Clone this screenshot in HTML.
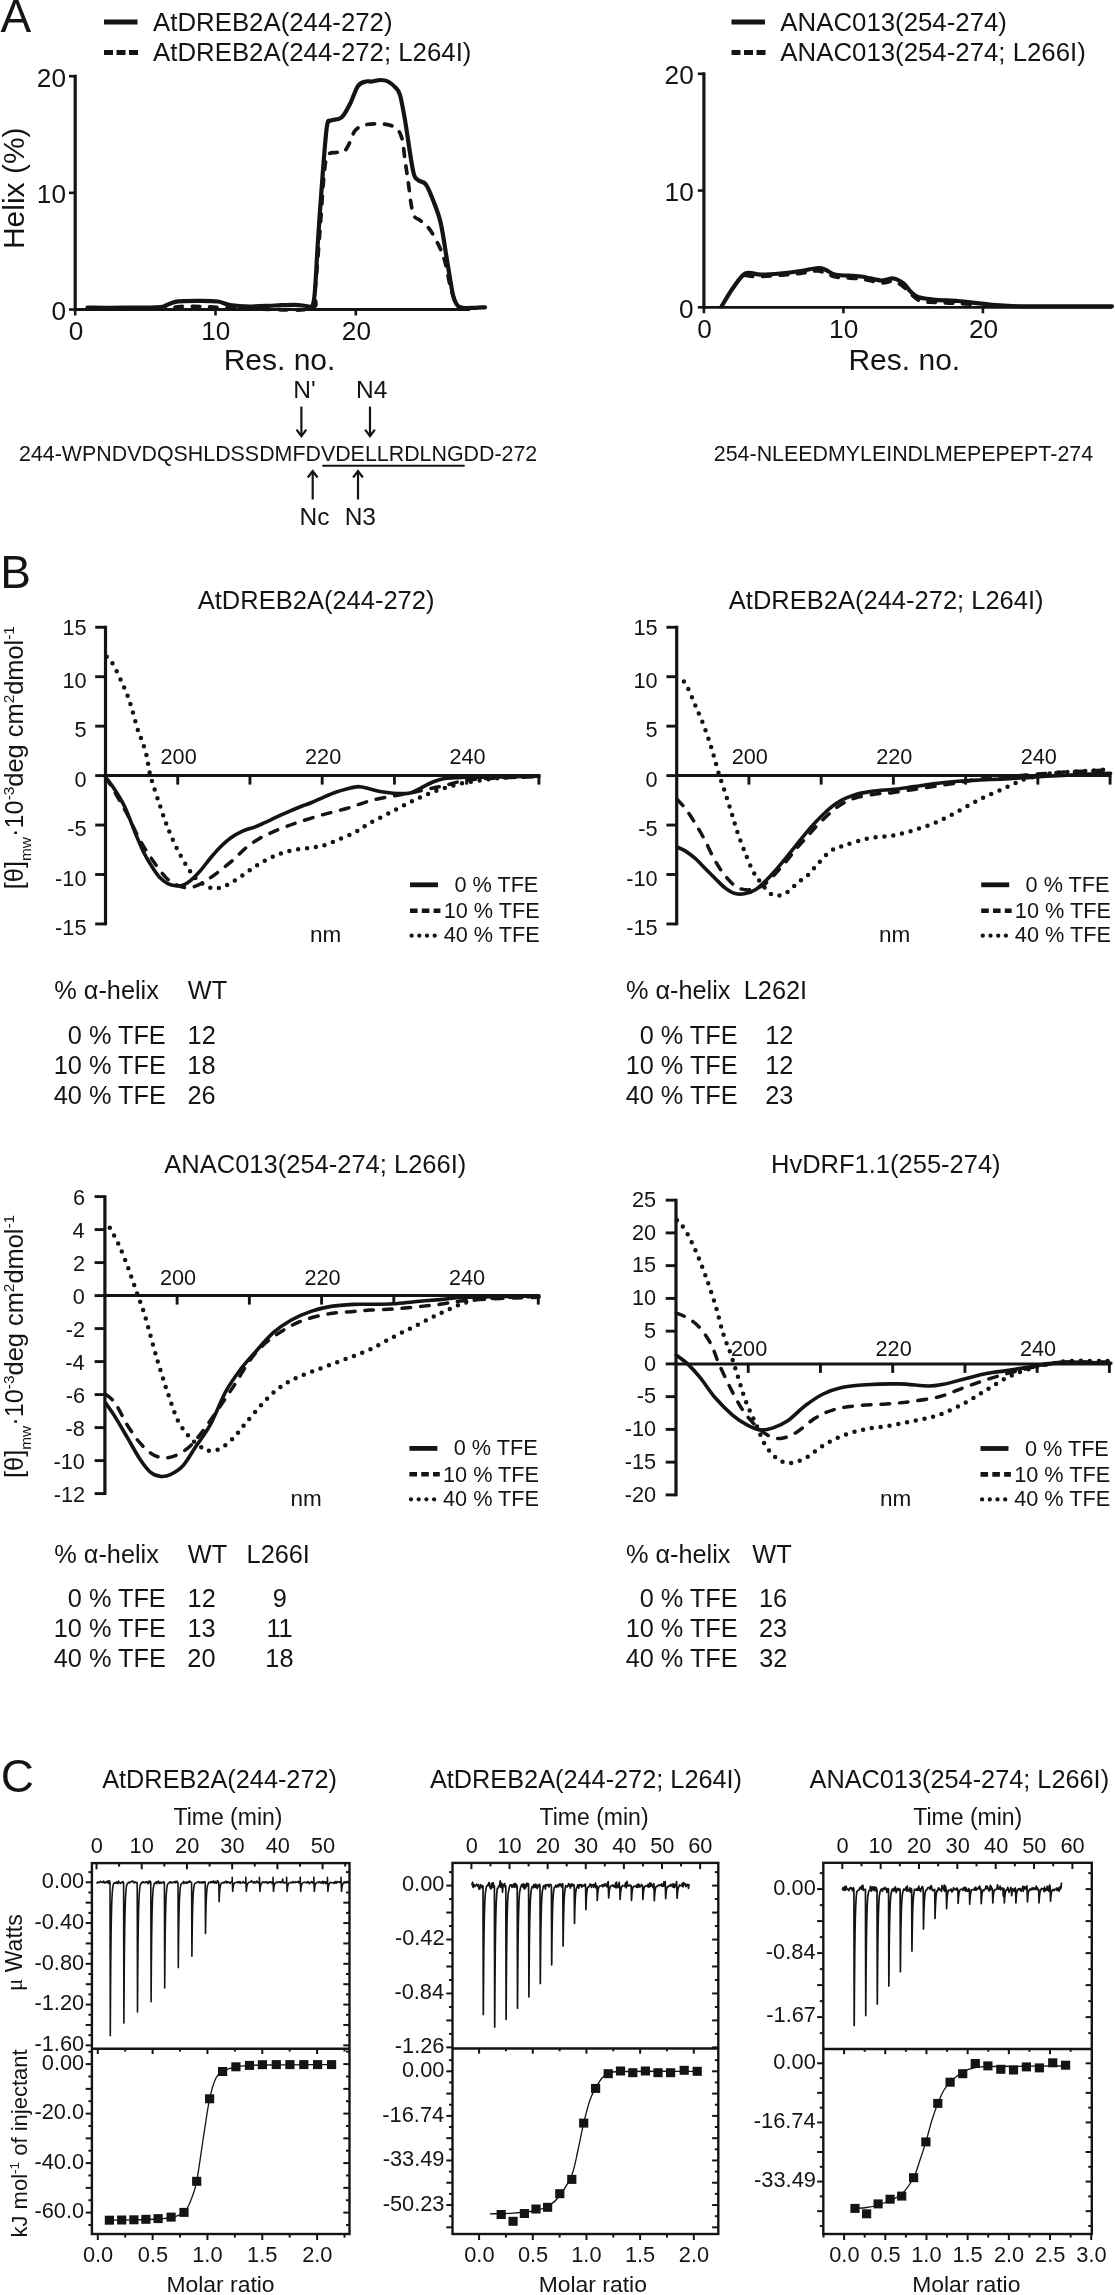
<!DOCTYPE html>
<html><head><meta charset="utf-8"><style>
html,body{margin:0;padding:0;background:#fff;}
svg{display:block;will-change:transform;}
text{font-family:"Liberation Sans",sans-serif;fill:#141414;}
</style></head><body>
<svg width="1115" height="2295" viewBox="0 0 1115 2295">
<rect width="1115" height="2295" fill="#fff"/>
<text x="0.57" y="32.30" font-size="46" >A</text>
<text x="0.32" y="587.70" font-size="46" >B</text>
<text x="0.70" y="1792.00" font-size="46" >C</text>
<line x1="75.20" y1="74.70" x2="75.20" y2="311.00" stroke="#141414" stroke-width="3.2" stroke-linecap="butt"/>
<line x1="75.20" y1="309.50" x2="470.00" y2="309.50" stroke="#141414" stroke-width="2.8" stroke-linecap="butt"/>
<line x1="69.00" y1="309.50" x2="75.20" y2="309.50" stroke="#141414" stroke-width="2.6" stroke-linecap="butt"/>
<line x1="69.00" y1="192.85" x2="75.20" y2="192.85" stroke="#141414" stroke-width="2.6" stroke-linecap="butt"/>
<line x1="69.00" y1="76.20" x2="75.20" y2="76.20" stroke="#141414" stroke-width="2.6" stroke-linecap="butt"/>
<line x1="75.20" y1="309.50" x2="75.20" y2="315.50" stroke="#141414" stroke-width="2.6" stroke-linecap="butt"/>
<line x1="215.50" y1="309.50" x2="215.50" y2="315.50" stroke="#141414" stroke-width="2.6" stroke-linecap="butt"/>
<line x1="355.80" y1="309.50" x2="355.80" y2="315.50" stroke="#141414" stroke-width="2.6" stroke-linecap="butt"/>
<text x="36.87" y="86.60" font-size="26.2" >20</text>
<text x="36.87" y="203.25" font-size="26.2" >10</text>
<text x="51.41" y="320.10" font-size="26.2" >0</text>
<text x="68.63" y="339.80" font-size="26.2" >0</text>
<text x="201.20" y="339.80" font-size="26.2" >10</text>
<text x="341.83" y="339.80" font-size="26.2" >20</text>
<text x="223.65" y="370.40" font-size="30" >Res. no.</text>
<text transform="translate(24.2,249.10) rotate(-90)" font-size="30">Helix (%)</text>
<line x1="104.00" y1="22.00" x2="137.50" y2="22.00" stroke="#141414" stroke-width="5" stroke-linecap="butt"/>
<text x="153.07" y="31.40" font-size="25.8" >AtDREB2A(244-272)</text>
<line x1="104" y1="52.5" x2="138" y2="52.5" stroke="#141414" stroke-width="5" stroke-dasharray="9 3.5"/>
<text x="153.07" y="61.20" font-size="25.8" >AtDREB2A(244-272; L264I)</text>
<path d="M87.50,307.60 C91.25,307.63 101.25,307.82 110.00,307.80 C118.75,307.78 131.67,307.60 140.00,307.50 C148.33,307.40 155.33,307.70 160.00,307.20 C164.67,306.70 165.00,305.48 168.00,304.50 C171.00,303.52 172.67,301.92 178.00,301.30 C183.33,300.68 193.33,300.77 200.00,300.80 C206.67,300.83 213.00,300.80 218.00,301.50 C223.00,302.20 224.67,304.17 230.00,305.00 C235.33,305.83 242.50,306.42 250.00,306.50 C257.50,306.58 267.50,305.78 275.00,305.50 C282.50,305.22 289.83,304.72 295.00,304.80 C300.17,304.88 303.08,305.88 306.00,306.00 C308.92,306.12 311.00,308.17 312.50,305.50 C314.00,302.83 314.08,300.92 315.00,290.00 C315.92,279.08 316.67,260.00 318.00,240.00 C319.33,220.00 321.50,189.00 323.00,170.00 C324.50,151.00 325.67,134.25 327.00,126.00 C328.33,117.75 328.58,121.92 331.00,120.50 C333.42,119.08 338.33,120.25 341.50,117.50 C344.67,114.75 347.25,109.25 350.00,104.00 C352.75,98.75 355.33,89.75 358.00,86.00 C360.67,82.25 363.67,82.25 366.00,81.50 C368.33,80.75 369.58,81.75 372.00,81.50 C374.42,81.25 377.83,80.00 380.50,80.00 C383.17,80.00 385.50,80.23 388.00,81.50 C390.50,82.77 393.50,85.35 395.50,87.60 C397.50,89.85 398.42,89.60 400.00,95.00 C401.58,100.40 402.83,107.42 405.00,120.00 C407.17,132.58 410.83,160.50 413.00,170.50 C415.17,180.50 415.88,177.70 418.00,180.00 C420.12,182.30 423.20,180.97 425.70,184.30 C428.20,187.63 430.50,193.55 433.00,200.00 C435.50,206.45 438.37,213.00 440.70,223.00 C443.03,233.00 444.95,248.00 447.00,260.00 C449.05,272.00 451.17,287.33 453.00,295.00 C454.83,302.67 456.00,303.83 458.00,306.00 C460.00,308.17 462.17,307.70 465.00,308.00 C467.83,308.30 471.67,307.92 475.00,307.80 C478.33,307.68 483.33,307.38 485.00,307.30" fill="none" stroke="#141414" stroke-width="4.2" stroke-linecap="round" stroke-linejoin="round"/>
<path d="M88.00,308.80 C91.67,308.83 101.33,309.05 110.00,309.00 C118.67,308.95 130.00,308.70 140.00,308.50 C150.00,308.30 163.33,308.13 170.00,307.80 C176.67,307.47 175.00,306.72 180.00,306.50 C185.00,306.28 193.33,306.33 200.00,306.50 C206.67,306.67 210.00,307.08 220.00,307.50 C230.00,307.92 244.83,308.83 260.00,309.00 C275.17,309.17 301.83,311.67 311.00,308.50 C320.17,305.33 313.50,303.08 315.00,290.00 C316.50,276.92 318.50,249.17 320.00,230.00 C321.50,210.83 322.72,187.43 324.00,175.00 C325.28,162.57 325.70,159.15 327.70,155.40 C329.70,151.65 333.28,153.12 336.00,152.50 C338.72,151.88 341.67,153.45 344.00,151.70 C346.33,149.95 348.12,145.57 350.00,142.00 C351.88,138.43 352.73,133.17 355.30,130.30 C357.87,127.43 360.78,125.85 365.40,124.80 C370.02,123.75 377.98,123.50 383.00,124.00 C388.02,124.50 392.37,125.48 395.50,127.80 C398.63,130.12 400.22,132.53 401.80,137.90 C403.38,143.27 403.97,152.90 405.00,160.00 C406.03,167.10 406.67,171.63 408.00,180.50 C409.33,189.37 410.90,206.50 413.00,213.20 C415.10,219.90 417.65,217.77 420.60,220.70 C423.55,223.63 426.93,224.93 430.70,230.80 C434.47,236.67 439.98,246.87 443.20,255.90 C446.42,264.93 447.90,277.05 450.00,285.00 C452.10,292.95 454.13,299.68 455.80,303.60 C457.47,307.52 459.30,307.68 460.00,308.50" fill="none" stroke="#141414" stroke-width="3.7" stroke-linecap="round" stroke-linejoin="round" stroke-dasharray="7.6 9.8"/>
<line x1="703.90" y1="72.30" x2="703.90" y2="308.80" stroke="#141414" stroke-width="3.2" stroke-linecap="butt"/>
<line x1="703.90" y1="307.30" x2="1112.00" y2="307.30" stroke="#141414" stroke-width="2.8" stroke-linecap="butt"/>
<line x1="697.80" y1="307.30" x2="703.90" y2="307.30" stroke="#141414" stroke-width="2.6" stroke-linecap="butt"/>
<line x1="697.80" y1="190.55" x2="703.90" y2="190.55" stroke="#141414" stroke-width="2.6" stroke-linecap="butt"/>
<line x1="697.80" y1="73.80" x2="703.90" y2="73.80" stroke="#141414" stroke-width="2.6" stroke-linecap="butt"/>
<line x1="703.90" y1="307.30" x2="703.90" y2="313.30" stroke="#141414" stroke-width="2.6" stroke-linecap="butt"/>
<line x1="843.40" y1="307.30" x2="843.40" y2="313.30" stroke="#141414" stroke-width="2.6" stroke-linecap="butt"/>
<line x1="982.90" y1="307.30" x2="982.90" y2="313.30" stroke="#141414" stroke-width="2.6" stroke-linecap="butt"/>
<text x="664.57" y="84.20" font-size="26.2" >20</text>
<text x="664.57" y="200.95" font-size="26.2" >10</text>
<text x="679.11" y="317.90" font-size="26.2" >0</text>
<text x="697.33" y="337.70" font-size="26.2" >0</text>
<text x="829.10" y="337.70" font-size="26.2" >10</text>
<text x="968.93" y="337.70" font-size="26.2" >20</text>
<text x="848.45" y="370.20" font-size="30" >Res. no.</text>
<line x1="731.50" y1="22.00" x2="765.00" y2="22.00" stroke="#141414" stroke-width="5" stroke-linecap="butt"/>
<text x="780.37" y="31.40" font-size="25.8" >ANAC013(254-274)</text>
<line x1="731.5" y1="52.5" x2="765.5" y2="52.5" stroke="#141414" stroke-width="5" stroke-dasharray="9 3.5"/>
<text x="780.37" y="61.20" font-size="25.8" >ANAC013(254-274; L266I)</text>
<path d="M721.50,306.50 C723.42,303.42 729.02,293.50 733.00,288.00 C736.98,282.50 740.82,275.72 745.40,273.50 C749.98,271.28 754.73,274.70 760.50,274.70 C766.27,274.70 773.32,274.12 780.00,273.50 C786.68,272.88 794.23,271.92 800.60,271.00 C806.97,270.08 813.97,268.17 818.20,268.00 C822.43,267.83 823.07,268.88 826.00,270.00 C828.93,271.12 829.97,273.62 835.80,274.70 C841.63,275.78 853.47,275.53 861.00,276.50 C868.53,277.47 875.58,280.17 881.00,280.50 C886.42,280.83 889.73,278.00 893.50,278.50 C897.27,279.00 900.68,281.25 903.60,283.50 C906.52,285.75 908.48,289.70 911.00,292.00 C913.52,294.30 914.53,296.00 918.70,297.30 C922.87,298.60 929.45,299.18 936.00,299.80 C942.55,300.42 950.83,300.42 958.00,301.00 C965.17,301.58 972.83,302.63 979.00,303.30 C985.17,303.97 988.17,304.50 995.00,305.00 C1001.83,305.50 1009.17,306.08 1020.00,306.30 C1030.83,306.52 1044.67,306.30 1060.00,306.30 C1075.33,306.30 1103.33,306.30 1112.00,306.30" fill="none" stroke="#141414" stroke-width="4.2" stroke-linecap="round" stroke-linejoin="round"/>
<path d="M745.40,275.50 C747.92,275.70 751.30,277.03 760.50,276.70 C769.70,276.37 790.98,274.45 800.60,273.50 C810.22,272.55 812.33,270.42 818.20,271.00 C824.07,271.58 828.67,275.67 835.80,277.00 C842.93,278.33 853.47,278.00 861.00,279.00 C868.53,280.00 875.58,282.58 881.00,283.00 C886.42,283.42 889.73,280.83 893.50,281.50 C897.27,282.17 899.40,283.87 903.60,287.00 C907.80,290.13 913.30,297.72 918.70,300.30 C924.10,302.88 929.45,301.97 936.00,302.50 C942.55,303.03 950.83,303.08 958.00,303.50 C965.17,303.92 975.50,304.75 979.00,305.00" fill="none" stroke="#141414" stroke-width="3.5" stroke-linecap="round" stroke-linejoin="round" stroke-dasharray="7.6 9.8"/>
<text x="19.03" y="460.70" font-size="21.4" >244-WPNDVDQSHLDSSDMFDVDELLRDLNGDD-272</text>
<line x1="322.30" y1="465.80" x2="464.70" y2="465.80" stroke="#141414" stroke-width="2.0" stroke-linecap="butt"/>
<text x="713.83" y="461.00" font-size="21.4" >254-NLEEDMYLEINDLMEPEPEPT-274</text>
<line x1="301.40" y1="406.60" x2="301.40" y2="436.20" stroke="#141414" stroke-width="2.2" stroke-linecap="butt"/>
<path d="M296.52,429.70 L301.40,436.20 L306.27,429.70" fill="none" stroke="#141414" stroke-width="2.2" stroke-linejoin="miter"/>
<line x1="370.00" y1="406.60" x2="370.00" y2="436.20" stroke="#141414" stroke-width="2.2" stroke-linecap="butt"/>
<path d="M365.12,429.70 L370.00,436.20 L374.88,429.70" fill="none" stroke="#141414" stroke-width="2.2" stroke-linejoin="miter"/>
<line x1="312.70" y1="499.50" x2="312.70" y2="471.00" stroke="#141414" stroke-width="2.2" stroke-linecap="butt"/>
<path d="M307.82,477.50 L312.70,471.00 L317.57,477.50" fill="none" stroke="#141414" stroke-width="2.2" stroke-linejoin="miter"/>
<line x1="358.00" y1="499.50" x2="358.00" y2="471.00" stroke="#141414" stroke-width="2.2" stroke-linecap="butt"/>
<path d="M353.12,477.50 L358.00,471.00 L362.88,477.50" fill="none" stroke="#141414" stroke-width="2.2" stroke-linejoin="miter"/>
<text x="293.24" y="398.30" font-size="24.5" >N'</text>
<text x="356.04" y="398.30" font-size="24.5" >N4</text>
<text x="299.44" y="524.60" font-size="24.5" >Nc</text>
<text x="344.64" y="524.60" font-size="24.5" >N3</text>
<line x1="105.50" y1="625.85" x2="105.50" y2="925.35" stroke="#141414" stroke-width="3.2" stroke-linecap="butt"/>
<line x1="104.00" y1="775.60" x2="540.28" y2="775.60" stroke="#141414" stroke-width="3.0" stroke-linecap="butt"/>
<line x1="95.20" y1="923.95" x2="105.50" y2="923.95" stroke="#141414" stroke-width="2.9" stroke-linecap="butt"/>
<text x="55.11" y="934.95" font-size="21.7" >-15</text>
<line x1="95.20" y1="874.50" x2="105.50" y2="874.50" stroke="#141414" stroke-width="2.9" stroke-linecap="butt"/>
<text x="55.11" y="885.50" font-size="21.7" >-10</text>
<line x1="95.20" y1="825.05" x2="105.50" y2="825.05" stroke="#141414" stroke-width="2.9" stroke-linecap="butt"/>
<text x="67.16" y="836.05" font-size="21.7" >-5</text>
<line x1="95.20" y1="775.60" x2="105.50" y2="775.60" stroke="#141414" stroke-width="2.9" stroke-linecap="butt"/>
<text x="74.42" y="786.60" font-size="21.7" >0</text>
<line x1="95.20" y1="726.15" x2="105.50" y2="726.15" stroke="#141414" stroke-width="2.9" stroke-linecap="butt"/>
<text x="74.42" y="737.15" font-size="21.7" >5</text>
<line x1="95.20" y1="676.70" x2="105.50" y2="676.70" stroke="#141414" stroke-width="2.9" stroke-linecap="butt"/>
<text x="62.38" y="687.70" font-size="21.7" >10</text>
<line x1="95.20" y1="627.25" x2="105.50" y2="627.25" stroke="#141414" stroke-width="2.9" stroke-linecap="butt"/>
<text x="62.38" y="634.85" font-size="21.7" >15</text>
<line x1="177.73" y1="775.60" x2="177.73" y2="784.60" stroke="#141414" stroke-width="2.9" stroke-linecap="butt"/>
<line x1="249.96" y1="775.60" x2="249.96" y2="784.60" stroke="#141414" stroke-width="2.9" stroke-linecap="butt"/>
<line x1="322.19" y1="775.60" x2="322.19" y2="784.60" stroke="#141414" stroke-width="2.9" stroke-linecap="butt"/>
<line x1="394.42" y1="775.60" x2="394.42" y2="784.60" stroke="#141414" stroke-width="2.9" stroke-linecap="butt"/>
<line x1="466.65" y1="775.60" x2="466.65" y2="784.60" stroke="#141414" stroke-width="2.9" stroke-linecap="butt"/>
<line x1="538.88" y1="775.60" x2="538.88" y2="784.60" stroke="#141414" stroke-width="2.9" stroke-linecap="butt"/>
<text x="160.56" y="764.30" font-size="21.7" >200</text>
<text x="305.02" y="764.30" font-size="21.7" >220</text>
<text x="449.48" y="764.30" font-size="21.7" >240</text>
<text x="197.78" y="609.20" font-size="25.5" >AtDREB2A(244-272)</text>
<text x="309.92" y="942.20" font-size="22.5" >nm</text>
<line x1="410.00" y1="884.80" x2="438.00" y2="884.80" stroke="#141414" stroke-width="4.8" stroke-linecap="butt"/>
<line x1="410.00" y1="910.70" x2="440.40" y2="910.70" stroke="#141414" stroke-width="4.6" stroke-dasharray="7.6 4.2"/>
<line x1="411.60" y1="935.70" x2="436.00" y2="935.70" stroke="#141414" stroke-width="4.3" stroke-linecap="round" stroke-dasharray="0 7.7"/>
<text x="454.39" y="891.80" font-size="21.7" >0 % TFE</text>
<text x="443.65" y="917.90" font-size="21.7" >10 % TFE</text>
<text x="443.65" y="942.20" font-size="21.7" >40 % TFE</text>
<path d="M105.60,777.20 C107.18,779.37 111.83,785.10 115.10,790.20 C118.37,795.30 121.85,800.68 125.20,807.80 C128.55,814.92 132.07,825.37 135.20,832.90 C138.33,840.43 141.07,847.15 144.00,853.00 C146.93,858.85 150.08,863.82 152.80,868.00 C155.52,872.18 157.80,875.50 160.30,878.10 C162.80,880.70 165.28,882.33 167.80,883.60 C170.32,884.87 172.88,885.43 175.40,885.70 C177.92,885.97 180.38,886.05 182.90,885.20 C185.42,884.35 187.57,883.03 190.50,880.60 C193.43,878.17 197.17,874.37 200.50,870.60 C203.83,866.83 207.15,861.98 210.50,858.00 C213.85,854.02 217.25,850.05 220.60,846.70 C223.95,843.35 226.83,840.53 230.60,837.90 C234.37,835.27 239.02,832.78 243.20,830.90 C247.38,829.02 251.10,828.43 255.70,826.60 C260.30,824.77 265.77,822.20 270.80,819.90 C275.83,817.60 280.87,815.03 285.90,812.80 C290.93,810.57 296.70,808.22 301.00,806.50 C305.30,804.78 307.98,804.03 311.70,802.50 C315.42,800.97 319.42,798.97 323.30,797.30 C327.18,795.63 331.12,793.88 335.00,792.50 C338.88,791.12 342.72,789.98 346.60,789.00 C350.48,788.02 354.40,786.60 358.30,786.60 C362.20,786.60 366.12,788.13 370.00,789.00 C373.88,789.87 377.72,791.10 381.60,791.80 C385.48,792.50 389.42,792.90 393.30,793.20 C397.18,793.50 401.80,793.72 404.90,793.60 C408.00,793.48 409.17,793.47 411.90,792.50 C414.63,791.53 417.80,789.55 421.30,787.80 C424.80,786.05 429.02,783.55 432.90,782.00 C436.78,780.45 439.55,779.28 444.60,778.50 C449.65,777.72 456.20,777.53 463.20,777.30 C470.20,777.07 473.97,777.30 486.60,777.10 C499.23,776.90 530.27,776.27 539.00,776.10" fill="none" stroke="#141414" stroke-width="3.6" stroke-linecap="round" stroke-linejoin="round"/>
<path d="M105.60,777.20 C107.18,779.78 111.42,786.35 115.10,792.70 C118.78,799.05 123.52,807.33 127.70,815.30 C131.88,823.27 136.02,832.97 140.20,840.50 C144.38,848.03 148.62,854.43 152.80,860.50 C156.98,866.57 161.53,872.92 165.30,876.90 C169.07,880.88 172.05,882.60 175.40,884.40 C178.75,886.20 182.05,887.40 185.40,887.70 C188.75,888.00 191.73,887.58 195.50,886.20 C199.27,884.82 203.82,882.08 208.00,879.40 C212.18,876.72 216.42,873.33 220.60,870.10 C224.78,866.87 228.92,863.68 233.10,860.00 C237.28,856.32 241.50,851.47 245.70,848.00 C249.90,844.53 254.12,841.72 258.30,839.20 C262.48,836.68 266.20,835.00 270.80,832.90 C275.40,830.80 280.87,828.52 285.90,826.60 C290.93,824.68 294.77,823.40 301.00,821.40 C307.23,819.40 315.70,816.75 323.30,814.60 C330.90,812.45 338.82,810.80 346.60,808.50 C354.38,806.20 362.22,802.88 370.00,800.80 C377.78,798.72 386.70,797.27 393.30,796.00 C399.90,794.73 403.77,794.37 409.60,793.20 C415.43,792.03 422.47,790.28 428.30,789.00 C434.13,787.72 438.78,786.87 444.60,785.50 C450.42,784.13 456.20,781.97 463.20,780.80 C470.20,779.63 473.97,779.20 486.60,778.50 C499.23,777.80 530.27,776.92 539.00,776.60" fill="none" stroke="#141414" stroke-width="3.5" stroke-linecap="round" stroke-linejoin="round" stroke-dasharray="8.6 10"/>
<path d="M106.70,656.70 C107.75,657.95 110.62,660.23 113.00,664.20 C115.38,668.17 118.50,675.05 121.00,680.50 C123.50,685.95 125.98,691.45 128.00,696.90 C130.02,702.35 131.42,707.55 133.10,713.20 C134.78,718.85 136.53,726.00 138.10,730.80 C139.67,735.60 141.03,737.63 142.50,742.00 C143.97,746.37 145.60,751.47 146.90,757.00 C148.20,762.53 148.28,767.57 150.30,775.20 C152.32,782.83 156.08,794.02 159.00,802.80 C161.92,811.58 164.65,819.95 167.80,827.90 C170.95,835.85 174.53,843.82 177.90,850.50 C181.27,857.18 185.07,863.40 188.00,868.00 C190.93,872.60 192.17,874.95 195.50,878.10 C198.83,881.25 204.25,885.22 208.00,886.90 C211.75,888.58 214.23,888.83 218.00,888.20 C221.77,887.57 225.98,885.62 230.60,883.10 C235.22,880.58 240.67,876.45 245.70,873.10 C250.73,869.75 255.78,865.93 260.80,863.00 C265.82,860.07 270.78,857.58 275.80,855.50 C280.82,853.42 285.45,851.75 290.90,850.50 C296.35,849.25 303.10,848.83 308.50,848.00 C313.90,847.17 317.87,847.08 323.30,845.50 C328.73,843.92 335.62,840.80 341.10,838.50 C346.58,836.20 351.38,834.28 356.20,831.70 C361.02,829.12 363.82,826.45 370.00,823.00 C376.18,819.55 385.53,815.00 393.30,811.00 C401.07,807.00 408.83,802.58 416.60,799.00 C424.37,795.42 432.13,792.15 439.90,789.50 C447.67,786.85 455.42,784.75 463.20,783.10 C470.98,781.45 478.82,780.57 486.60,779.60 C494.38,778.63 501.17,777.88 509.90,777.30 C518.63,776.72 534.15,776.30 539.00,776.10" fill="none" stroke="#141414" stroke-width="4.5" stroke-linecap="round" stroke-linejoin="round" stroke-dasharray="0 8.9"/>
<text transform="translate(22.90,889.20) rotate(-90)" font-size="25.4">[θ]<tspan font-size="15.4" dy="8">mw</tspan><tspan dy="-8">·10</tspan><tspan font-size="15.4" dy="-9">-3</tspan><tspan dy="9">deg cm</tspan><tspan font-size="15.4" dy="-9">2</tspan><tspan dy="9">dmol</tspan><tspan font-size="15.4" dy="-9">-1</tspan></text>
<line x1="676.70" y1="625.85" x2="676.70" y2="925.35" stroke="#141414" stroke-width="3.2" stroke-linecap="butt"/>
<line x1="675.20" y1="775.60" x2="1111.48" y2="775.60" stroke="#141414" stroke-width="3.0" stroke-linecap="butt"/>
<line x1="666.40" y1="923.95" x2="676.70" y2="923.95" stroke="#141414" stroke-width="2.9" stroke-linecap="butt"/>
<text x="626.21" y="934.95" font-size="21.7" >-15</text>
<line x1="666.40" y1="874.50" x2="676.70" y2="874.50" stroke="#141414" stroke-width="2.9" stroke-linecap="butt"/>
<text x="626.21" y="885.50" font-size="21.7" >-10</text>
<line x1="666.40" y1="825.05" x2="676.70" y2="825.05" stroke="#141414" stroke-width="2.9" stroke-linecap="butt"/>
<text x="638.25" y="836.05" font-size="21.7" >-5</text>
<line x1="666.40" y1="775.60" x2="676.70" y2="775.60" stroke="#141414" stroke-width="2.9" stroke-linecap="butt"/>
<text x="645.52" y="786.60" font-size="21.7" >0</text>
<line x1="666.40" y1="726.15" x2="676.70" y2="726.15" stroke="#141414" stroke-width="2.9" stroke-linecap="butt"/>
<text x="645.52" y="737.15" font-size="21.7" >5</text>
<line x1="666.40" y1="676.70" x2="676.70" y2="676.70" stroke="#141414" stroke-width="2.9" stroke-linecap="butt"/>
<text x="633.48" y="687.70" font-size="21.7" >10</text>
<line x1="666.40" y1="627.25" x2="676.70" y2="627.25" stroke="#141414" stroke-width="2.9" stroke-linecap="butt"/>
<text x="633.48" y="634.85" font-size="21.7" >15</text>
<line x1="748.93" y1="775.60" x2="748.93" y2="784.60" stroke="#141414" stroke-width="2.9" stroke-linecap="butt"/>
<line x1="821.16" y1="775.60" x2="821.16" y2="784.60" stroke="#141414" stroke-width="2.9" stroke-linecap="butt"/>
<line x1="893.39" y1="775.60" x2="893.39" y2="784.60" stroke="#141414" stroke-width="2.9" stroke-linecap="butt"/>
<line x1="965.62" y1="775.60" x2="965.62" y2="784.60" stroke="#141414" stroke-width="2.9" stroke-linecap="butt"/>
<line x1="1037.85" y1="775.60" x2="1037.85" y2="784.60" stroke="#141414" stroke-width="2.9" stroke-linecap="butt"/>
<line x1="1110.08" y1="775.60" x2="1110.08" y2="784.60" stroke="#141414" stroke-width="2.9" stroke-linecap="butt"/>
<text x="731.76" y="764.30" font-size="21.7" >200</text>
<text x="876.22" y="764.30" font-size="21.7" >220</text>
<text x="1020.68" y="764.30" font-size="21.7" >240</text>
<text x="728.87" y="609.20" font-size="25.5" >AtDREB2A(244-272; L264I)</text>
<text x="879.12" y="942.20" font-size="22.5" >nm</text>
<line x1="981.20" y1="884.80" x2="1009.20" y2="884.80" stroke="#141414" stroke-width="4.8" stroke-linecap="butt"/>
<line x1="981.20" y1="910.70" x2="1011.60" y2="910.70" stroke="#141414" stroke-width="4.6" stroke-dasharray="7.6 4.2"/>
<line x1="982.80" y1="935.70" x2="1007.20" y2="935.70" stroke="#141414" stroke-width="4.3" stroke-linecap="round" stroke-dasharray="0 7.7"/>
<text x="1025.59" y="891.80" font-size="21.7" >0 % TFE</text>
<text x="1014.85" y="917.90" font-size="21.7" >10 % TFE</text>
<text x="1014.85" y="942.20" font-size="21.7" >40 % TFE</text>
<path d="M677.10,847.10 C678.43,847.73 682.08,849.02 685.10,850.90 C688.12,852.78 691.85,855.47 695.20,858.40 C698.55,861.33 701.87,865.15 705.20,868.50 C708.53,871.85 711.85,875.23 715.20,878.50 C718.55,881.77 721.95,885.58 725.30,888.10 C728.65,890.62 731.95,892.68 735.30,893.60 C738.65,894.52 742.05,894.23 745.40,893.60 C748.75,892.97 752.05,891.90 755.40,889.80 C758.75,887.70 762.15,884.22 765.50,881.00 C768.85,877.78 772.15,874.27 775.50,870.50 C778.85,866.73 782.25,862.50 785.60,858.40 C788.95,854.30 792.25,850.08 795.60,845.90 C798.95,841.72 802.35,837.28 805.70,833.30 C809.05,829.32 812.37,825.55 815.70,822.00 C819.03,818.45 822.35,815.05 825.70,812.00 C829.05,808.95 832.45,806.00 835.80,803.70 C839.15,801.40 842.45,799.75 845.80,798.20 C849.15,796.65 852.13,795.45 855.90,794.40 C859.67,793.35 864.22,792.58 868.40,791.90 C872.58,791.22 877.07,790.68 881.00,790.30 C884.93,789.92 886.50,790.22 892.00,789.60 C897.50,788.98 906.68,787.62 914.00,786.60 C921.32,785.58 928.58,784.38 935.90,783.50 C943.22,782.62 950.57,781.88 957.90,781.30 C965.23,780.72 972.58,780.37 979.90,780.00 C987.22,779.63 994.48,779.47 1001.80,779.10 C1009.12,778.73 1016.47,778.27 1023.80,777.80 C1031.13,777.33 1038.47,776.73 1045.80,776.30 C1053.13,775.87 1060.48,775.57 1067.80,775.20 C1075.12,774.83 1082.58,774.40 1089.70,774.10 C1096.82,773.80 1107.03,773.52 1110.50,773.40" fill="none" stroke="#141414" stroke-width="3.6" stroke-linecap="round" stroke-linejoin="round"/>
<path d="M677.10,799.40 C678.43,800.87 682.08,804.22 685.10,808.20 C688.12,812.18 691.85,817.85 695.20,823.30 C698.55,828.75 701.87,834.62 705.20,840.90 C708.53,847.18 711.85,855.15 715.20,861.00 C718.55,866.85 721.95,871.82 725.30,876.00 C728.65,880.18 731.95,883.80 735.30,886.10 C738.65,888.40 742.05,889.38 745.40,889.80 C748.75,890.22 752.05,889.65 755.40,888.60 C758.75,887.55 762.15,886.02 765.50,883.50 C768.85,880.98 772.15,877.05 775.50,873.50 C778.85,869.95 782.25,866.18 785.60,862.20 C788.95,858.22 792.25,853.58 795.60,849.60 C798.95,845.62 802.35,842.07 805.70,838.30 C809.05,834.53 812.37,830.55 815.70,827.00 C819.03,823.45 822.35,820.13 825.70,817.00 C829.05,813.87 832.45,810.72 835.80,808.20 C839.15,805.68 842.45,803.65 845.80,801.90 C849.15,800.15 852.13,798.82 855.90,797.70 C859.67,796.58 864.22,795.92 868.40,795.20 C872.58,794.48 877.07,793.82 881.00,793.40 C884.93,792.98 886.50,793.37 892.00,792.70 C897.50,792.03 906.68,790.50 914.00,789.40 C921.32,788.30 928.58,787.20 935.90,786.10 C943.22,785.00 950.57,783.97 957.90,782.80 C965.23,781.63 972.58,780.00 979.90,779.10 C987.22,778.20 994.48,778.05 1001.80,777.40 C1009.12,776.75 1016.47,775.87 1023.80,775.20 C1031.13,774.53 1038.47,773.95 1045.80,773.40 C1053.13,772.85 1060.48,772.33 1067.80,771.90 C1075.12,771.47 1082.58,771.17 1089.70,770.80 C1096.82,770.43 1107.03,769.88 1110.50,769.70" fill="none" stroke="#141414" stroke-width="3.5" stroke-linecap="round" stroke-linejoin="round" stroke-dasharray="8.6 10"/>
<path d="M683.90,681.40 C684.73,682.87 687.02,686.23 688.90,690.20 C690.78,694.17 692.90,699.77 695.20,705.20 C697.50,710.63 700.40,716.93 702.70,722.80 C705.00,728.67 707.12,734.75 709.00,740.40 C710.88,746.05 712.33,751.05 714.00,756.70 C715.67,762.35 717.12,768.23 719.00,774.30 C720.88,780.37 723.20,786.62 725.30,793.10 C727.40,799.58 729.52,806.50 731.60,813.20 C733.68,819.90 735.50,826.60 737.80,833.30 C740.10,840.00 742.88,847.12 745.40,853.40 C747.92,859.68 750.38,866.18 752.90,871.00 C755.42,875.82 757.57,878.53 760.50,882.30 C763.43,886.07 767.37,891.38 770.50,893.60 C773.63,895.82 776.37,895.93 779.30,895.60 C782.23,895.27 784.97,893.82 788.10,891.60 C791.23,889.38 794.75,885.10 798.10,882.30 C801.45,879.50 804.85,877.93 808.20,874.80 C811.55,871.67 814.43,867.48 818.20,863.50 C821.97,859.52 826.62,853.83 830.80,850.90 C834.98,847.97 838.70,847.57 843.30,845.90 C847.90,844.23 852.95,842.37 858.40,840.90 C863.85,839.43 870.15,838.00 876.00,837.10 C881.85,836.20 887.17,836.67 893.50,835.50 C899.83,834.33 906.93,832.28 914.00,830.10 C921.07,827.92 928.58,825.52 935.90,822.40 C943.22,819.28 950.57,815.25 957.90,811.40 C965.23,807.55 972.58,802.97 979.90,799.30 C987.22,795.63 996.32,791.87 1001.80,789.40 C1007.28,786.93 1009.13,786.13 1012.80,784.50 C1016.47,782.87 1018.30,781.33 1023.80,779.60 C1029.30,777.87 1038.47,775.38 1045.80,774.10 C1053.13,772.82 1060.48,772.45 1067.80,771.90 C1075.12,771.35 1082.58,771.28 1089.70,770.80 C1096.82,770.32 1107.03,769.30 1110.50,769.00" fill="none" stroke="#141414" stroke-width="4.5" stroke-linecap="round" stroke-linejoin="round" stroke-dasharray="0 8.9"/>
<line x1="104.90" y1="1195.20" x2="104.90" y2="1495.00" stroke="#141414" stroke-width="3.2" stroke-linecap="butt"/>
<line x1="103.40" y1="1295.60" x2="539.68" y2="1295.60" stroke="#141414" stroke-width="3.0" stroke-linecap="butt"/>
<line x1="94.60" y1="1493.60" x2="104.90" y2="1493.60" stroke="#141414" stroke-width="2.9" stroke-linecap="butt"/>
<text x="53.73" y="1501.70" font-size="21.7" >-12</text>
<line x1="94.60" y1="1460.60" x2="104.90" y2="1460.60" stroke="#141414" stroke-width="2.9" stroke-linecap="butt"/>
<text x="53.51" y="1468.70" font-size="21.7" >-10</text>
<line x1="94.60" y1="1427.60" x2="104.90" y2="1427.60" stroke="#141414" stroke-width="2.9" stroke-linecap="butt"/>
<text x="65.56" y="1435.70" font-size="21.7" >-8</text>
<line x1="94.60" y1="1394.60" x2="104.90" y2="1394.60" stroke="#141414" stroke-width="2.9" stroke-linecap="butt"/>
<text x="65.66" y="1402.70" font-size="21.7" >-6</text>
<line x1="94.60" y1="1361.60" x2="104.90" y2="1361.60" stroke="#141414" stroke-width="2.9" stroke-linecap="butt"/>
<text x="65.34" y="1369.70" font-size="21.7" >-4</text>
<line x1="94.60" y1="1328.60" x2="104.90" y2="1328.60" stroke="#141414" stroke-width="2.9" stroke-linecap="butt"/>
<text x="65.77" y="1336.70" font-size="21.7" >-2</text>
<line x1="94.60" y1="1295.60" x2="104.90" y2="1295.60" stroke="#141414" stroke-width="2.9" stroke-linecap="butt"/>
<text x="72.82" y="1303.70" font-size="21.7" >0</text>
<line x1="94.60" y1="1262.60" x2="104.90" y2="1262.60" stroke="#141414" stroke-width="2.9" stroke-linecap="butt"/>
<text x="73.04" y="1270.70" font-size="21.7" >2</text>
<line x1="94.60" y1="1229.60" x2="104.90" y2="1229.60" stroke="#141414" stroke-width="2.9" stroke-linecap="butt"/>
<text x="72.61" y="1237.70" font-size="21.7" >4</text>
<line x1="94.60" y1="1196.60" x2="104.90" y2="1196.60" stroke="#141414" stroke-width="2.9" stroke-linecap="butt"/>
<text x="72.93" y="1204.70" font-size="21.7" >6</text>
<line x1="177.13" y1="1295.60" x2="177.13" y2="1304.60" stroke="#141414" stroke-width="2.9" stroke-linecap="butt"/>
<line x1="249.36" y1="1295.60" x2="249.36" y2="1304.60" stroke="#141414" stroke-width="2.9" stroke-linecap="butt"/>
<line x1="321.59" y1="1295.60" x2="321.59" y2="1304.60" stroke="#141414" stroke-width="2.9" stroke-linecap="butt"/>
<line x1="393.82" y1="1295.60" x2="393.82" y2="1304.60" stroke="#141414" stroke-width="2.9" stroke-linecap="butt"/>
<line x1="466.05" y1="1295.60" x2="466.05" y2="1304.60" stroke="#141414" stroke-width="2.9" stroke-linecap="butt"/>
<line x1="538.28" y1="1295.60" x2="538.28" y2="1304.60" stroke="#141414" stroke-width="2.9" stroke-linecap="butt"/>
<text x="159.96" y="1285.20" font-size="21.7" >200</text>
<text x="304.42" y="1285.20" font-size="21.7" >220</text>
<text x="448.88" y="1285.20" font-size="21.7" >240</text>
<text x="164.34" y="1173.10" font-size="25.5" >ANAC013(254-274; L266I)</text>
<text x="290.42" y="1506.00" font-size="22.5" >nm</text>
<line x1="409.40" y1="1448.40" x2="437.40" y2="1448.40" stroke="#141414" stroke-width="4.8" stroke-linecap="butt"/>
<line x1="409.40" y1="1474.30" x2="439.80" y2="1474.30" stroke="#141414" stroke-width="4.6" stroke-dasharray="7.6 4.2"/>
<line x1="411.00" y1="1499.30" x2="435.40" y2="1499.30" stroke="#141414" stroke-width="4.3" stroke-linecap="round" stroke-dasharray="0 7.7"/>
<text x="453.79" y="1455.40" font-size="21.7" >0 % TFE</text>
<text x="443.05" y="1481.50" font-size="21.7" >10 % TFE</text>
<text x="443.05" y="1505.80" font-size="21.7" >40 % TFE</text>
<path d="M105.60,1403.00 C107.18,1405.32 111.42,1411.03 115.10,1416.90 C118.78,1422.77 123.52,1431.08 127.70,1438.20 C131.88,1445.32 136.43,1453.95 140.20,1459.60 C143.97,1465.25 146.95,1469.30 150.30,1472.10 C153.65,1474.90 156.95,1475.98 160.30,1476.40 C163.65,1476.82 166.63,1476.37 170.40,1474.60 C174.17,1472.83 178.72,1470.40 182.90,1465.80 C187.08,1461.20 190.90,1453.90 195.50,1447.00 C200.10,1440.10 205.48,1433.60 210.50,1424.40 C215.52,1415.20 220.57,1401.00 225.60,1391.80 C230.63,1382.60 235.68,1375.90 240.70,1369.20 C245.72,1362.50 250.27,1357.68 255.70,1351.60 C261.13,1345.52 267.43,1337.93 273.30,1332.70 C279.17,1327.47 284.62,1323.75 290.90,1320.20 C297.18,1316.65 304.30,1313.70 311.00,1311.40 C317.70,1309.10 323.98,1307.57 331.10,1306.40 C338.22,1305.23 347.22,1304.75 353.70,1304.40 C360.18,1304.05 363.40,1304.40 370.00,1304.30 C376.60,1304.20 385.53,1304.27 393.30,1303.80 C401.07,1303.33 408.83,1302.20 416.60,1301.50 C424.37,1300.80 432.13,1300.30 439.90,1299.60 C447.67,1298.90 453.18,1297.82 463.20,1297.30 C473.22,1296.78 487.37,1296.70 500.00,1296.50 C512.63,1296.30 532.50,1296.17 539.00,1296.10" fill="none" stroke="#141414" stroke-width="3.6" stroke-linecap="round" stroke-linejoin="round"/>
<path d="M105.60,1394.30 C107.18,1395.75 111.42,1397.77 115.10,1403.00 C118.78,1408.23 123.52,1419.00 127.70,1425.70 C131.88,1432.40 136.02,1438.40 140.20,1443.20 C144.38,1448.00 148.62,1452.07 152.80,1454.50 C156.98,1456.93 161.12,1457.80 165.30,1457.80 C169.48,1457.80 173.70,1456.52 177.90,1454.50 C182.10,1452.48 186.32,1449.67 190.50,1445.70 C194.68,1441.73 197.98,1437.38 203.00,1430.70 C208.02,1424.02 215.15,1413.55 220.60,1405.60 C226.05,1397.65 230.68,1390.75 235.70,1383.00 C240.72,1375.25 245.68,1365.80 250.70,1359.10 C255.72,1352.40 260.35,1347.62 265.80,1342.80 C271.25,1337.98 277.12,1333.97 283.40,1330.20 C289.68,1326.43 295.97,1322.92 303.50,1320.20 C311.03,1317.48 320.23,1315.37 328.60,1313.90 C336.97,1312.43 346.80,1312.03 353.70,1311.40 C360.60,1310.77 363.40,1310.50 370.00,1310.10 C376.60,1309.70 385.53,1309.55 393.30,1309.00 C401.07,1308.45 408.83,1307.58 416.60,1306.80 C424.37,1306.02 432.13,1305.30 439.90,1304.30 C447.67,1303.30 453.18,1301.77 463.20,1300.80 C473.22,1299.83 487.37,1299.08 500.00,1298.50 C512.63,1297.92 532.50,1297.50 539.00,1297.30" fill="none" stroke="#141414" stroke-width="3.5" stroke-linecap="round" stroke-linejoin="round" stroke-dasharray="8.6 10"/>
<path d="M109.80,1227.80 C111.15,1230.32 115.30,1237.45 117.90,1242.90 C120.50,1248.35 123.10,1254.65 125.40,1260.50 C127.70,1266.35 129.62,1272.15 131.70,1278.00 C133.78,1283.85 135.82,1289.73 137.90,1295.60 C139.98,1301.47 142.10,1306.50 144.20,1313.20 C146.30,1319.90 148.40,1328.27 150.50,1335.80 C152.60,1343.33 154.72,1351.28 156.80,1358.40 C158.88,1365.52 161.17,1372.73 163.00,1378.50 C164.83,1384.27 165.32,1385.98 167.80,1393.00 C170.28,1400.02 174.12,1413.07 177.90,1420.60 C181.68,1428.13 186.32,1433.58 190.50,1438.20 C194.68,1442.82 199.67,1446.20 203.00,1448.30 C206.33,1450.40 207.57,1450.80 210.50,1450.80 C213.43,1450.80 216.83,1450.40 220.60,1448.30 C224.37,1446.20 228.92,1442.40 233.10,1438.20 C237.28,1434.00 241.08,1428.53 245.70,1423.10 C250.32,1417.67 255.78,1411.03 260.80,1405.60 C265.82,1400.17 270.78,1394.68 275.80,1390.50 C280.82,1386.32 285.45,1383.43 290.90,1380.50 C296.35,1377.57 302.22,1375.42 308.50,1372.90 C314.78,1370.38 321.90,1367.90 328.60,1365.40 C335.30,1362.90 341.80,1360.55 348.70,1357.90 C355.60,1355.25 362.57,1352.98 370.00,1349.50 C377.43,1346.02 385.53,1341.03 393.30,1337.00 C401.07,1332.97 408.83,1329.20 416.60,1325.30 C424.37,1321.40 432.13,1317.30 439.90,1313.60 C447.67,1309.90 457.37,1305.43 463.20,1303.10 C469.03,1300.77 468.77,1300.53 474.90,1299.60 C481.03,1298.67 489.32,1298.08 500.00,1297.50 C510.68,1296.92 532.50,1296.33 539.00,1296.10" fill="none" stroke="#141414" stroke-width="4.5" stroke-linecap="round" stroke-linejoin="round" stroke-dasharray="0 8.9"/>
<text transform="translate(22.90,1478.00) rotate(-90)" font-size="25.4">[θ]<tspan font-size="15.4" dy="8">mw</tspan><tspan dy="-8">·10</tspan><tspan font-size="15.4" dy="-9">-3</tspan><tspan dy="9">deg cm</tspan><tspan font-size="15.4" dy="-9">2</tspan><tspan dy="9">dmol</tspan><tspan font-size="15.4" dy="-9">-1</tspan></text>
<line x1="676.00" y1="1198.75" x2="676.00" y2="1496.30" stroke="#141414" stroke-width="3.2" stroke-linecap="butt"/>
<line x1="674.50" y1="1363.90" x2="1110.78" y2="1363.90" stroke="#141414" stroke-width="3.0" stroke-linecap="butt"/>
<line x1="665.70" y1="1494.90" x2="676.00" y2="1494.90" stroke="#141414" stroke-width="2.9" stroke-linecap="butt"/>
<text x="624.71" y="1501.50" font-size="21.7" >-20</text>
<line x1="665.70" y1="1462.15" x2="676.00" y2="1462.15" stroke="#141414" stroke-width="2.9" stroke-linecap="butt"/>
<text x="624.71" y="1468.75" font-size="21.7" >-15</text>
<line x1="665.70" y1="1429.40" x2="676.00" y2="1429.40" stroke="#141414" stroke-width="2.9" stroke-linecap="butt"/>
<text x="624.71" y="1436.00" font-size="21.7" >-10</text>
<line x1="665.70" y1="1396.65" x2="676.00" y2="1396.65" stroke="#141414" stroke-width="2.9" stroke-linecap="butt"/>
<text x="636.75" y="1403.25" font-size="21.7" >-5</text>
<line x1="665.70" y1="1363.90" x2="676.00" y2="1363.90" stroke="#141414" stroke-width="2.9" stroke-linecap="butt"/>
<text x="644.02" y="1370.50" font-size="21.7" >0</text>
<line x1="665.70" y1="1331.15" x2="676.00" y2="1331.15" stroke="#141414" stroke-width="2.9" stroke-linecap="butt"/>
<text x="644.02" y="1337.75" font-size="21.7" >5</text>
<line x1="665.70" y1="1298.40" x2="676.00" y2="1298.40" stroke="#141414" stroke-width="2.9" stroke-linecap="butt"/>
<text x="631.98" y="1305.00" font-size="21.7" >10</text>
<line x1="665.70" y1="1265.65" x2="676.00" y2="1265.65" stroke="#141414" stroke-width="2.9" stroke-linecap="butt"/>
<text x="631.98" y="1272.25" font-size="21.7" >15</text>
<line x1="665.70" y1="1232.90" x2="676.00" y2="1232.90" stroke="#141414" stroke-width="2.9" stroke-linecap="butt"/>
<text x="631.98" y="1239.50" font-size="21.7" >20</text>
<line x1="665.70" y1="1200.15" x2="676.00" y2="1200.15" stroke="#141414" stroke-width="2.9" stroke-linecap="butt"/>
<text x="631.98" y="1206.75" font-size="21.7" >25</text>
<line x1="748.23" y1="1363.90" x2="748.23" y2="1372.90" stroke="#141414" stroke-width="2.9" stroke-linecap="butt"/>
<line x1="820.46" y1="1363.90" x2="820.46" y2="1372.90" stroke="#141414" stroke-width="2.9" stroke-linecap="butt"/>
<line x1="892.69" y1="1363.90" x2="892.69" y2="1372.90" stroke="#141414" stroke-width="2.9" stroke-linecap="butt"/>
<line x1="964.92" y1="1363.90" x2="964.92" y2="1372.90" stroke="#141414" stroke-width="2.9" stroke-linecap="butt"/>
<line x1="1037.15" y1="1363.90" x2="1037.15" y2="1372.90" stroke="#141414" stroke-width="2.9" stroke-linecap="butt"/>
<line x1="1109.38" y1="1363.90" x2="1109.38" y2="1372.90" stroke="#141414" stroke-width="2.9" stroke-linecap="butt"/>
<text x="731.06" y="1356.00" font-size="21.7" >200</text>
<text x="875.52" y="1356.00" font-size="21.7" >220</text>
<text x="1019.98" y="1356.00" font-size="21.7" >240</text>
<text x="771.00" y="1173.00" font-size="25.5" >HvDRF1.1(255-274)</text>
<text x="879.92" y="1506.20" font-size="22.5" >nm</text>
<line x1="980.50" y1="1448.50" x2="1008.50" y2="1448.50" stroke="#141414" stroke-width="4.8" stroke-linecap="butt"/>
<line x1="980.50" y1="1474.40" x2="1010.90" y2="1474.40" stroke="#141414" stroke-width="4.6" stroke-dasharray="7.6 4.2"/>
<line x1="982.10" y1="1499.40" x2="1006.50" y2="1499.40" stroke="#141414" stroke-width="4.3" stroke-linecap="round" stroke-dasharray="0 7.7"/>
<text x="1024.89" y="1455.50" font-size="21.7" >0 % TFE</text>
<text x="1014.15" y="1481.60" font-size="21.7" >10 % TFE</text>
<text x="1014.15" y="1505.90" font-size="21.7" >40 % TFE</text>
<path d="M676.30,1355.10 C678.18,1356.57 683.62,1360.13 687.60,1363.90 C691.58,1367.67 695.60,1372.05 700.20,1377.70 C704.80,1383.35 709.77,1391.53 715.20,1397.80 C720.63,1404.07 727.35,1410.70 732.80,1415.30 C738.25,1419.90 743.28,1422.97 747.90,1425.40 C752.52,1427.83 756.32,1429.48 760.50,1429.90 C764.68,1430.32 768.40,1429.48 773.00,1427.90 C777.60,1426.32 782.65,1424.17 788.10,1420.40 C793.55,1416.63 799.85,1409.70 805.70,1405.30 C811.55,1400.90 817.35,1396.93 823.20,1394.00 C829.05,1391.07 833.68,1389.25 840.80,1387.70 C847.92,1386.15 856.27,1385.33 865.90,1384.70 C875.53,1384.07 888.17,1383.68 898.60,1383.90 C909.03,1384.12 921.07,1385.93 928.50,1386.00 C935.93,1386.07 937.23,1385.47 943.20,1384.30 C949.17,1383.13 957.27,1380.77 964.30,1379.00 C971.33,1377.23 978.37,1375.10 985.40,1373.70 C992.43,1372.30 999.48,1371.65 1006.50,1370.60 C1013.52,1369.55 1020.48,1368.57 1027.50,1367.40 C1034.52,1366.23 1041.57,1364.48 1048.60,1363.60 C1055.63,1362.72 1059.33,1362.17 1069.70,1362.10 C1080.07,1362.03 1103.95,1363.02 1110.80,1363.20" fill="none" stroke="#141414" stroke-width="3.6" stroke-linecap="round" stroke-linejoin="round"/>
<path d="M676.30,1313.10 C677.80,1313.73 681.70,1314.80 685.30,1316.90 C688.90,1319.00 693.70,1321.32 697.90,1325.70 C702.10,1330.08 706.98,1336.82 710.50,1343.20 C714.02,1349.58 715.68,1356.53 719.00,1364.00 C722.32,1371.47 726.42,1380.28 730.40,1388.00 C734.38,1395.72 738.73,1404.07 742.90,1410.30 C747.07,1416.53 751.22,1421.22 755.40,1425.40 C759.58,1429.58 763.82,1433.23 768.00,1435.40 C772.18,1437.57 775.90,1438.82 780.50,1438.40 C785.10,1437.98 789.73,1436.33 795.60,1432.90 C801.47,1429.47 809.00,1421.77 815.70,1417.80 C822.40,1413.83 828.27,1411.18 835.80,1409.10 C843.33,1407.02 852.53,1406.15 860.90,1405.30 C869.27,1404.45 877.63,1404.63 886.00,1404.00 C894.37,1403.37 902.10,1402.75 911.10,1401.50 C920.10,1400.25 931.13,1398.85 940.00,1396.50 C948.87,1394.15 956.73,1390.15 964.30,1387.40 C971.87,1384.65 978.37,1382.28 985.40,1380.00 C992.43,1377.72 999.48,1375.62 1006.50,1373.70 C1013.52,1371.78 1020.48,1370.08 1027.50,1368.50 C1034.52,1366.92 1041.57,1365.27 1048.60,1364.20 C1055.63,1363.13 1059.33,1362.45 1069.70,1362.10 C1080.07,1361.75 1103.95,1362.10 1110.80,1362.10" fill="none" stroke="#141414" stroke-width="3.5" stroke-linecap="round" stroke-linejoin="round" stroke-dasharray="8.6 10"/>
<path d="M677.00,1220.20 C678.38,1221.87 682.23,1225.18 685.30,1230.20 C688.37,1235.22 692.05,1242.77 695.40,1250.30 C698.75,1257.83 702.05,1266.18 705.40,1275.40 C708.75,1284.62 712.57,1295.97 715.50,1305.60 C718.43,1315.23 720.50,1325.25 723.00,1333.20 C725.50,1341.15 728.25,1346.83 730.50,1353.30 C732.75,1359.77 734.02,1364.17 736.50,1372.00 C738.98,1379.83 742.25,1391.82 745.40,1400.30 C748.55,1408.78 752.05,1415.37 755.40,1422.90 C758.75,1430.43 761.73,1439.43 765.50,1445.50 C769.27,1451.57 773.82,1456.38 778.00,1459.30 C782.18,1462.22 785.98,1463.22 790.60,1463.00 C795.22,1462.78 800.27,1460.92 805.70,1458.00 C811.13,1455.08 816.93,1449.27 823.20,1445.50 C829.47,1441.73 836.18,1438.13 843.30,1435.40 C850.42,1432.67 857.95,1430.77 865.90,1429.10 C873.85,1427.43 882.62,1426.85 891.00,1425.40 C899.38,1423.95 908.03,1422.22 916.20,1420.40 C924.37,1418.58 931.98,1417.37 940.00,1414.50 C948.02,1411.63 956.73,1407.18 964.30,1403.20 C971.87,1399.22 978.37,1394.82 985.40,1390.60 C992.43,1386.38 999.48,1381.42 1006.50,1377.90 C1013.52,1374.38 1020.48,1371.78 1027.50,1369.50 C1034.52,1367.22 1041.57,1365.60 1048.60,1364.20 C1055.63,1362.80 1059.33,1361.62 1069.70,1361.10 C1080.07,1360.58 1103.95,1361.10 1110.80,1361.10" fill="none" stroke="#141414" stroke-width="4.5" stroke-linecap="round" stroke-linejoin="round" stroke-dasharray="0 8.9"/>
<text x="54.31" y="998.70" font-size="25.3" >% α-helix</text>
<text x="187.87" y="998.70" font-size="25.3" >WT</text>
<text x="67.80" y="1043.50" font-size="25.3" >0 % TFE</text>
<text x="53.76" y="1073.70" font-size="25.3" >10 % TFE</text>
<text x="53.76" y="1103.60" font-size="25.3" >40 % TFE</text>
<text x="187.58" y="1043.50" font-size="25.3" >12</text>
<text x="187.33" y="1073.70" font-size="25.3" >18</text>
<text x="187.46" y="1103.60" font-size="25.3" >26</text>
<text x="625.91" y="998.70" font-size="25.3" >% α-helix</text>
<text x="743.78" y="998.70" font-size="25.3" >L262I</text>
<text x="639.70" y="1043.50" font-size="25.3" >0 % TFE</text>
<text x="625.66" y="1073.70" font-size="25.3" >10 % TFE</text>
<text x="625.66" y="1103.60" font-size="25.3" >40 % TFE</text>
<text x="765.28" y="1043.50" font-size="25.3" >12</text>
<text x="765.28" y="1073.70" font-size="25.3" >12</text>
<text x="765.16" y="1103.60" font-size="25.3" >23</text>
<text x="54.31" y="1562.90" font-size="25.3" >% α-helix</text>
<text x="187.87" y="1562.90" font-size="25.3" >WT</text>
<text x="246.58" y="1562.90" font-size="25.3" >L266I</text>
<text x="67.80" y="1606.90" font-size="25.3" >0 % TFE</text>
<text x="53.76" y="1637.30" font-size="25.3" >10 % TFE</text>
<text x="53.76" y="1667.20" font-size="25.3" >40 % TFE</text>
<text x="187.58" y="1606.90" font-size="25.3" >12</text>
<text x="187.46" y="1637.30" font-size="25.3" >13</text>
<text x="187.33" y="1667.20" font-size="25.3" >20</text>
<text x="272.78" y="1606.90" font-size="25.3" >9</text>
<text x="266.39" y="1637.30" font-size="25.3" >11</text>
<text x="265.32" y="1667.20" font-size="25.3" >18</text>
<text x="625.91" y="1562.90" font-size="25.3" >% α-helix</text>
<text x="752.37" y="1562.90" font-size="25.3" >WT</text>
<text x="639.70" y="1606.90" font-size="25.3" >0 % TFE</text>
<text x="625.66" y="1637.30" font-size="25.3" >10 % TFE</text>
<text x="625.66" y="1667.20" font-size="25.3" >40 % TFE</text>
<text x="759.06" y="1606.90" font-size="25.3" >16</text>
<text x="759.06" y="1637.30" font-size="25.3" >23</text>
<text x="759.18" y="1667.20" font-size="25.3" >32</text>
<rect x="91.90" y="1863.10" width="257.60" height="370.90" fill="none" stroke="#141414" stroke-width="2.4"/>
<line x1="91.90" y1="2048.80" x2="349.50" y2="2048.80" stroke="#141414" stroke-width="2.4" stroke-linecap="butt"/>
<line x1="96.50" y1="1863.10" x2="96.50" y2="1869.30" stroke="#141414" stroke-width="2.0" stroke-linecap="butt"/>
<line x1="119.11" y1="1863.10" x2="119.11" y2="1866.60" stroke="#141414" stroke-width="2.0" stroke-linecap="butt"/>
<line x1="141.72" y1="1863.10" x2="141.72" y2="1869.30" stroke="#141414" stroke-width="2.0" stroke-linecap="butt"/>
<line x1="164.33" y1="1863.10" x2="164.33" y2="1866.60" stroke="#141414" stroke-width="2.0" stroke-linecap="butt"/>
<line x1="186.94" y1="1863.10" x2="186.94" y2="1869.30" stroke="#141414" stroke-width="2.0" stroke-linecap="butt"/>
<line x1="209.55" y1="1863.10" x2="209.55" y2="1866.60" stroke="#141414" stroke-width="2.0" stroke-linecap="butt"/>
<line x1="232.16" y1="1863.10" x2="232.16" y2="1869.30" stroke="#141414" stroke-width="2.0" stroke-linecap="butt"/>
<line x1="254.77" y1="1863.10" x2="254.77" y2="1866.60" stroke="#141414" stroke-width="2.0" stroke-linecap="butt"/>
<line x1="277.38" y1="1863.10" x2="277.38" y2="1869.30" stroke="#141414" stroke-width="2.0" stroke-linecap="butt"/>
<line x1="299.99" y1="1863.10" x2="299.99" y2="1866.60" stroke="#141414" stroke-width="2.0" stroke-linecap="butt"/>
<line x1="322.60" y1="1863.10" x2="322.60" y2="1869.30" stroke="#141414" stroke-width="2.0" stroke-linecap="butt"/>
<line x1="345.21" y1="1863.10" x2="345.21" y2="1866.60" stroke="#141414" stroke-width="2.0" stroke-linecap="butt"/>
<text x="90.75" y="1852.60" font-size="21.8" >0</text>
<text x="129.54" y="1852.60" font-size="21.8" >10</text>
<text x="175.03" y="1852.60" font-size="21.8" >20</text>
<text x="220.36" y="1852.60" font-size="21.8" >30</text>
<text x="265.74" y="1852.60" font-size="21.8" >40</text>
<text x="310.80" y="1852.60" font-size="21.8" >50</text>
<line x1="85.70" y1="2045.34" x2="91.90" y2="2045.34" stroke="#141414" stroke-width="2.0" stroke-linecap="butt"/>
<line x1="343.30" y1="2045.34" x2="349.50" y2="2045.34" stroke="#141414" stroke-width="2.0" stroke-linecap="butt"/>
<line x1="88.40" y1="2035.15" x2="91.90" y2="2035.15" stroke="#141414" stroke-width="2.0" stroke-linecap="butt"/>
<line x1="346.00" y1="2035.15" x2="349.50" y2="2035.15" stroke="#141414" stroke-width="2.0" stroke-linecap="butt"/>
<line x1="85.70" y1="2024.96" x2="91.90" y2="2024.96" stroke="#141414" stroke-width="2.0" stroke-linecap="butt"/>
<line x1="343.30" y1="2024.96" x2="349.50" y2="2024.96" stroke="#141414" stroke-width="2.0" stroke-linecap="butt"/>
<line x1="88.40" y1="2014.77" x2="91.90" y2="2014.77" stroke="#141414" stroke-width="2.0" stroke-linecap="butt"/>
<line x1="346.00" y1="2014.77" x2="349.50" y2="2014.77" stroke="#141414" stroke-width="2.0" stroke-linecap="butt"/>
<line x1="85.70" y1="2004.58" x2="91.90" y2="2004.58" stroke="#141414" stroke-width="2.0" stroke-linecap="butt"/>
<line x1="343.30" y1="2004.58" x2="349.50" y2="2004.58" stroke="#141414" stroke-width="2.0" stroke-linecap="butt"/>
<line x1="88.40" y1="1994.39" x2="91.90" y2="1994.39" stroke="#141414" stroke-width="2.0" stroke-linecap="butt"/>
<line x1="346.00" y1="1994.39" x2="349.50" y2="1994.39" stroke="#141414" stroke-width="2.0" stroke-linecap="butt"/>
<line x1="85.70" y1="1984.20" x2="91.90" y2="1984.20" stroke="#141414" stroke-width="2.0" stroke-linecap="butt"/>
<line x1="343.30" y1="1984.20" x2="349.50" y2="1984.20" stroke="#141414" stroke-width="2.0" stroke-linecap="butt"/>
<line x1="88.40" y1="1974.01" x2="91.90" y2="1974.01" stroke="#141414" stroke-width="2.0" stroke-linecap="butt"/>
<line x1="346.00" y1="1974.01" x2="349.50" y2="1974.01" stroke="#141414" stroke-width="2.0" stroke-linecap="butt"/>
<line x1="85.70" y1="1963.82" x2="91.90" y2="1963.82" stroke="#141414" stroke-width="2.0" stroke-linecap="butt"/>
<line x1="343.30" y1="1963.82" x2="349.50" y2="1963.82" stroke="#141414" stroke-width="2.0" stroke-linecap="butt"/>
<line x1="88.40" y1="1953.63" x2="91.90" y2="1953.63" stroke="#141414" stroke-width="2.0" stroke-linecap="butt"/>
<line x1="346.00" y1="1953.63" x2="349.50" y2="1953.63" stroke="#141414" stroke-width="2.0" stroke-linecap="butt"/>
<line x1="85.70" y1="1943.44" x2="91.90" y2="1943.44" stroke="#141414" stroke-width="2.0" stroke-linecap="butt"/>
<line x1="343.30" y1="1943.44" x2="349.50" y2="1943.44" stroke="#141414" stroke-width="2.0" stroke-linecap="butt"/>
<line x1="88.40" y1="1933.25" x2="91.90" y2="1933.25" stroke="#141414" stroke-width="2.0" stroke-linecap="butt"/>
<line x1="346.00" y1="1933.25" x2="349.50" y2="1933.25" stroke="#141414" stroke-width="2.0" stroke-linecap="butt"/>
<line x1="85.70" y1="1923.06" x2="91.90" y2="1923.06" stroke="#141414" stroke-width="2.0" stroke-linecap="butt"/>
<line x1="343.30" y1="1923.06" x2="349.50" y2="1923.06" stroke="#141414" stroke-width="2.0" stroke-linecap="butt"/>
<line x1="88.40" y1="1912.87" x2="91.90" y2="1912.87" stroke="#141414" stroke-width="2.0" stroke-linecap="butt"/>
<line x1="346.00" y1="1912.87" x2="349.50" y2="1912.87" stroke="#141414" stroke-width="2.0" stroke-linecap="butt"/>
<line x1="85.70" y1="1902.68" x2="91.90" y2="1902.68" stroke="#141414" stroke-width="2.0" stroke-linecap="butt"/>
<line x1="343.30" y1="1902.68" x2="349.50" y2="1902.68" stroke="#141414" stroke-width="2.0" stroke-linecap="butt"/>
<line x1="88.40" y1="1892.49" x2="91.90" y2="1892.49" stroke="#141414" stroke-width="2.0" stroke-linecap="butt"/>
<line x1="346.00" y1="1892.49" x2="349.50" y2="1892.49" stroke="#141414" stroke-width="2.0" stroke-linecap="butt"/>
<line x1="85.70" y1="1882.30" x2="91.90" y2="1882.30" stroke="#141414" stroke-width="2.0" stroke-linecap="butt"/>
<line x1="343.30" y1="1882.30" x2="349.50" y2="1882.30" stroke="#141414" stroke-width="2.0" stroke-linecap="butt"/>
<line x1="88.40" y1="1872.11" x2="91.90" y2="1872.11" stroke="#141414" stroke-width="2.0" stroke-linecap="butt"/>
<line x1="346.00" y1="1872.11" x2="349.50" y2="1872.11" stroke="#141414" stroke-width="2.0" stroke-linecap="butt"/>
<text x="41.77" y="1888.10" font-size="21.8" >0.00</text>
<text x="34.47" y="1928.86" font-size="21.8" >-0.40</text>
<text x="34.47" y="1969.62" font-size="21.8" >-0.80</text>
<text x="34.47" y="2010.38" font-size="21.8" >-1.20</text>
<text x="34.47" y="2051.14" font-size="21.8" >-1.60</text>
<line x1="88.40" y1="2224.97" x2="91.90" y2="2224.97" stroke="#141414" stroke-width="2.0" stroke-linecap="butt"/>
<line x1="346.00" y1="2224.97" x2="349.50" y2="2224.97" stroke="#141414" stroke-width="2.0" stroke-linecap="butt"/>
<line x1="85.70" y1="2212.60" x2="91.90" y2="2212.60" stroke="#141414" stroke-width="2.0" stroke-linecap="butt"/>
<line x1="343.30" y1="2212.60" x2="349.50" y2="2212.60" stroke="#141414" stroke-width="2.0" stroke-linecap="butt"/>
<line x1="88.40" y1="2200.22" x2="91.90" y2="2200.22" stroke="#141414" stroke-width="2.0" stroke-linecap="butt"/>
<line x1="346.00" y1="2200.22" x2="349.50" y2="2200.22" stroke="#141414" stroke-width="2.0" stroke-linecap="butt"/>
<line x1="85.70" y1="2187.85" x2="91.90" y2="2187.85" stroke="#141414" stroke-width="2.0" stroke-linecap="butt"/>
<line x1="343.30" y1="2187.85" x2="349.50" y2="2187.85" stroke="#141414" stroke-width="2.0" stroke-linecap="butt"/>
<line x1="88.40" y1="2175.47" x2="91.90" y2="2175.47" stroke="#141414" stroke-width="2.0" stroke-linecap="butt"/>
<line x1="346.00" y1="2175.47" x2="349.50" y2="2175.47" stroke="#141414" stroke-width="2.0" stroke-linecap="butt"/>
<line x1="85.70" y1="2163.10" x2="91.90" y2="2163.10" stroke="#141414" stroke-width="2.0" stroke-linecap="butt"/>
<line x1="343.30" y1="2163.10" x2="349.50" y2="2163.10" stroke="#141414" stroke-width="2.0" stroke-linecap="butt"/>
<line x1="88.40" y1="2150.72" x2="91.90" y2="2150.72" stroke="#141414" stroke-width="2.0" stroke-linecap="butt"/>
<line x1="346.00" y1="2150.72" x2="349.50" y2="2150.72" stroke="#141414" stroke-width="2.0" stroke-linecap="butt"/>
<line x1="85.70" y1="2138.35" x2="91.90" y2="2138.35" stroke="#141414" stroke-width="2.0" stroke-linecap="butt"/>
<line x1="343.30" y1="2138.35" x2="349.50" y2="2138.35" stroke="#141414" stroke-width="2.0" stroke-linecap="butt"/>
<line x1="88.40" y1="2125.97" x2="91.90" y2="2125.97" stroke="#141414" stroke-width="2.0" stroke-linecap="butt"/>
<line x1="346.00" y1="2125.97" x2="349.50" y2="2125.97" stroke="#141414" stroke-width="2.0" stroke-linecap="butt"/>
<line x1="85.70" y1="2113.60" x2="91.90" y2="2113.60" stroke="#141414" stroke-width="2.0" stroke-linecap="butt"/>
<line x1="343.30" y1="2113.60" x2="349.50" y2="2113.60" stroke="#141414" stroke-width="2.0" stroke-linecap="butt"/>
<line x1="88.40" y1="2101.22" x2="91.90" y2="2101.22" stroke="#141414" stroke-width="2.0" stroke-linecap="butt"/>
<line x1="346.00" y1="2101.22" x2="349.50" y2="2101.22" stroke="#141414" stroke-width="2.0" stroke-linecap="butt"/>
<line x1="85.70" y1="2088.85" x2="91.90" y2="2088.85" stroke="#141414" stroke-width="2.0" stroke-linecap="butt"/>
<line x1="343.30" y1="2088.85" x2="349.50" y2="2088.85" stroke="#141414" stroke-width="2.0" stroke-linecap="butt"/>
<line x1="88.40" y1="2076.47" x2="91.90" y2="2076.47" stroke="#141414" stroke-width="2.0" stroke-linecap="butt"/>
<line x1="346.00" y1="2076.47" x2="349.50" y2="2076.47" stroke="#141414" stroke-width="2.0" stroke-linecap="butt"/>
<line x1="85.70" y1="2064.10" x2="91.90" y2="2064.10" stroke="#141414" stroke-width="2.0" stroke-linecap="butt"/>
<line x1="343.30" y1="2064.10" x2="349.50" y2="2064.10" stroke="#141414" stroke-width="2.0" stroke-linecap="butt"/>
<line x1="88.40" y1="2051.72" x2="91.90" y2="2051.72" stroke="#141414" stroke-width="2.0" stroke-linecap="butt"/>
<line x1="346.00" y1="2051.72" x2="349.50" y2="2051.72" stroke="#141414" stroke-width="2.0" stroke-linecap="butt"/>
<text x="41.77" y="2069.90" font-size="21.8" >0.00</text>
<text x="34.47" y="2119.40" font-size="21.8" >-20.0</text>
<text x="34.47" y="2168.90" font-size="21.8" >-40.0</text>
<text x="34.47" y="2218.40" font-size="21.8" >-60.0</text>
<line x1="97.80" y1="2048.80" x2="97.80" y2="2054.00" stroke="#141414" stroke-width="2.0" stroke-linecap="butt"/>
<line x1="97.80" y1="2234.00" x2="97.80" y2="2240.00" stroke="#141414" stroke-width="2.0" stroke-linecap="butt"/>
<line x1="125.21" y1="2048.80" x2="125.21" y2="2051.60" stroke="#141414" stroke-width="2.0" stroke-linecap="butt"/>
<line x1="125.21" y1="2234.00" x2="125.21" y2="2237.60" stroke="#141414" stroke-width="2.0" stroke-linecap="butt"/>
<line x1="152.62" y1="2048.80" x2="152.62" y2="2054.00" stroke="#141414" stroke-width="2.0" stroke-linecap="butt"/>
<line x1="152.62" y1="2234.00" x2="152.62" y2="2240.00" stroke="#141414" stroke-width="2.0" stroke-linecap="butt"/>
<line x1="180.04" y1="2048.80" x2="180.04" y2="2051.60" stroke="#141414" stroke-width="2.0" stroke-linecap="butt"/>
<line x1="180.04" y1="2234.00" x2="180.04" y2="2237.60" stroke="#141414" stroke-width="2.0" stroke-linecap="butt"/>
<line x1="207.45" y1="2048.80" x2="207.45" y2="2054.00" stroke="#141414" stroke-width="2.0" stroke-linecap="butt"/>
<line x1="207.45" y1="2234.00" x2="207.45" y2="2240.00" stroke="#141414" stroke-width="2.0" stroke-linecap="butt"/>
<line x1="234.86" y1="2048.80" x2="234.86" y2="2051.60" stroke="#141414" stroke-width="2.0" stroke-linecap="butt"/>
<line x1="234.86" y1="2234.00" x2="234.86" y2="2237.60" stroke="#141414" stroke-width="2.0" stroke-linecap="butt"/>
<line x1="262.28" y1="2048.80" x2="262.28" y2="2054.00" stroke="#141414" stroke-width="2.0" stroke-linecap="butt"/>
<line x1="262.28" y1="2234.00" x2="262.28" y2="2240.00" stroke="#141414" stroke-width="2.0" stroke-linecap="butt"/>
<line x1="289.69" y1="2048.80" x2="289.69" y2="2051.60" stroke="#141414" stroke-width="2.0" stroke-linecap="butt"/>
<line x1="289.69" y1="2234.00" x2="289.69" y2="2237.60" stroke="#141414" stroke-width="2.0" stroke-linecap="butt"/>
<line x1="317.10" y1="2048.80" x2="317.10" y2="2054.00" stroke="#141414" stroke-width="2.0" stroke-linecap="butt"/>
<line x1="317.10" y1="2234.00" x2="317.10" y2="2240.00" stroke="#141414" stroke-width="2.0" stroke-linecap="butt"/>
<line x1="344.51" y1="2048.80" x2="344.51" y2="2051.60" stroke="#141414" stroke-width="2.0" stroke-linecap="butt"/>
<line x1="344.51" y1="2234.00" x2="344.51" y2="2237.60" stroke="#141414" stroke-width="2.0" stroke-linecap="butt"/>
<text x="82.95" y="2261.80" font-size="21.8" >0.0</text>
<text x="137.77" y="2261.80" font-size="21.8" >0.5</text>
<text x="192.22" y="2261.80" font-size="21.8" >1.0</text>
<text x="247.04" y="2261.80" font-size="21.8" >1.5</text>
<text x="302.14" y="2261.80" font-size="21.8" >2.0</text>
<text x="102.20" y="1788.20" font-size="25.3" >AtDREB2A(244-272)</text>
<text x="173.45" y="1825.40" font-size="23.0" >Time (min)</text>
<text x="166.44" y="2292.40" font-size="22.9" >Molar ratio</text>
<path d="M96.70,1882.36 L97.15,1883.05 L97.60,1881.96 L98.05,1882.14 L98.50,1882.27 L98.95,1882.74 L99.40,1882.65 L99.85,1881.72 L100.30,1881.50 L100.75,1881.39 L101.20,1882.20 L101.65,1882.11 L102.10,1882.25 L102.55,1882.44 L103.00,1882.06 L103.45,1881.09 L103.90,1881.45 L104.35,1882.96 L104.80,1882.50 L105.25,1882.11 L105.70,1882.93 L106.15,1882.16 L106.60,1881.71 L107.05,1882.27 L107.50,1881.18 L107.95,1881.64 L108.40,1883.44 L108.85,1880.85 L109.30,1883.29 L109.75,1881.11 L110.00,1882.80 L110.30,2035.70 L110.55,1990.70 L110.80,1958.90 L111.10,1932.80 L111.40,1915.59 L111.80,1901.40 L112.30,1891.84 L112.90,1886.40 L113.60,1883.67 L114.50,1882.73 L114.95,1882.51 L115.40,1883.22 L115.85,1882.87 L116.30,1882.02 L116.75,1883.29 L117.20,1882.16 L117.65,1882.18 L118.10,1883.54 L118.55,1881.15 L119.00,1882.21 L119.45,1882.79 L119.90,1882.50 L120.35,1882.88 L120.80,1883.46 L121.25,1882.62 L121.70,1882.77 L122.15,1881.95 L122.60,1881.80 L123.05,1881.67 L123.50,1882.96 L123.60,1882.80 L123.90,2023.10 L124.15,1981.80 L124.40,1952.61 L124.70,1928.65 L125.00,1912.86 L125.40,1899.83 L125.90,1891.05 L126.50,1885.97 L127.20,1883.76 L128.10,1882.97 L128.55,1882.21 L129.00,1882.27 L129.45,1883.12 L129.90,1882.40 L130.35,1881.83 L130.80,1881.82 L131.25,1881.72 L131.70,1881.35 L132.15,1881.61 L132.60,1880.92 L133.05,1881.86 L133.50,1882.01 L133.95,1881.75 L134.40,1882.89 L134.85,1882.32 L135.30,1882.16 L135.75,1882.14 L136.20,1882.70 L136.65,1882.55 L137.10,1882.89 L137.20,1882.80 L137.50,2011.90 L137.75,1973.88 L138.00,1947.02 L138.30,1924.96 L138.60,1910.43 L139.00,1898.44 L139.50,1890.36 L140.10,1885.68 L140.80,1883.87 L141.70,1882.79 L142.15,1882.01 L142.60,1882.79 L143.05,1881.87 L143.50,1881.92 L143.95,1882.23 L144.40,1882.50 L144.85,1882.74 L145.30,1882.49 L145.75,1881.78 L146.20,1882.43 L146.65,1881.84 L147.10,1881.76 L147.55,1882.60 L148.00,1883.74 L148.45,1882.34 L148.90,1880.95 L149.35,1882.89 L149.80,1882.27 L150.25,1881.16 L150.70,1882.17 L150.80,1882.80 L151.10,2001.70 L151.35,1966.67 L151.60,1941.92 L151.90,1921.61 L152.20,1908.21 L152.60,1897.17 L153.10,1889.72 L153.70,1885.79 L154.40,1883.31 L155.30,1882.52 L155.75,1883.06 L156.20,1881.77 L156.65,1883.70 L157.10,1881.84 L157.55,1882.54 L158.00,1882.75 L158.45,1881.08 L158.90,1883.03 L159.35,1882.28 L159.80,1883.49 L160.25,1882.06 L160.70,1882.62 L161.15,1882.80 L161.60,1883.24 L162.05,1882.33 L162.50,1882.23 L162.95,1882.75 L163.40,1882.45 L163.85,1881.70 L164.30,1882.99 L164.40,1882.80 L164.70,1988.00 L164.95,1956.99 L165.20,1935.08 L165.50,1917.10 L165.80,1905.24 L166.20,1895.46 L166.70,1888.87 L167.30,1885.30 L168.00,1883.43 L168.90,1883.19 L169.35,1882.11 L169.80,1882.09 L170.25,1882.78 L170.70,1881.81 L171.15,1882.01 L171.60,1882.84 L172.05,1882.84 L172.50,1882.63 L172.95,1882.48 L173.40,1882.42 L173.85,1881.73 L174.30,1881.77 L174.75,1882.54 L175.20,1881.49 L175.65,1882.74 L176.10,1881.40 L176.55,1882.09 L177.00,1881.20 L177.45,1882.85 L177.90,1883.15 L178.00,1882.80 L178.30,1967.60 L178.55,1942.58 L178.80,1924.89 L179.10,1910.38 L179.40,1900.81 L179.80,1892.92 L180.30,1887.60 L180.90,1884.29 L181.60,1883.56 L182.50,1882.93 L182.95,1882.53 L183.40,1881.44 L183.85,1883.70 L184.30,1882.78 L184.75,1882.33 L185.20,1882.12 L185.65,1882.91 L186.10,1882.04 L186.55,1883.14 L187.00,1883.10 L187.45,1883.05 L187.90,1881.79 L188.35,1882.38 L188.80,1881.59 L189.25,1882.29 L189.70,1880.90 L190.15,1881.26 L190.60,1881.86 L191.05,1882.30 L191.50,1883.13 L191.60,1882.80 L191.90,1956.30 L192.15,1934.59 L192.40,1919.25 L192.70,1906.66 L193.00,1898.36 L193.40,1891.51 L193.90,1886.90 L194.50,1884.10 L195.20,1883.28 L196.10,1882.82 L196.55,1882.65 L197.00,1882.29 L197.45,1881.94 L197.90,1881.97 L198.35,1881.66 L198.80,1882.57 L199.25,1882.09 L199.70,1882.93 L200.15,1881.94 L200.60,1882.48 L201.05,1882.74 L201.50,1882.13 L201.95,1882.70 L202.40,1882.03 L202.85,1883.20 L203.30,1881.89 L203.75,1881.77 L204.20,1881.72 L204.65,1882.38 L205.10,1881.85 L205.20,1882.80 L205.50,1933.50 L205.75,1918.48 L206.00,1907.87 L206.30,1899.15 L206.60,1893.41 L207.00,1888.68 L207.50,1885.48 L208.10,1884.15 L208.80,1882.42 L209.70,1882.50 L210.15,1882.63 L210.60,1881.61 L211.05,1882.68 L211.50,1881.82 L211.95,1881.88 L212.40,1882.39 L212.85,1881.62 L213.30,1880.95 L213.75,1882.47 L214.20,1882.73 L214.65,1883.11 L215.10,1881.30 L215.55,1882.06 L216.00,1882.88 L216.45,1883.25 L216.90,1882.93 L217.35,1880.57 L217.80,1881.86 L218.25,1881.66 L218.70,1882.57 L218.80,1882.80 L219.10,1901.80 L219.35,1896.08 L219.60,1892.04 L219.90,1888.72 L220.20,1886.53 L220.60,1884.73 L221.10,1883.51 L221.70,1883.11 L222.40,1882.42 L223.30,1882.29 L223.75,1883.18 L224.20,1882.53 L224.65,1882.15 L225.10,1882.44 L225.55,1881.30 L226.00,1881.68 L226.45,1881.40 L226.90,1883.17 L227.35,1882.08 L227.80,1881.74 L228.25,1882.32 L228.70,1881.95 L229.15,1882.15 L229.60,1882.84 L230.05,1883.44 L230.50,1882.60 L230.95,1882.16 L231.40,1881.68 L231.85,1881.86 L232.30,1882.16 L232.20,1877.30 L232.70,1891.50 L232.95,1888.80 L233.20,1886.89 L233.50,1885.33 L233.80,1884.30 L234.20,1883.45 L234.70,1882.87 L235.30,1882.72 L236.00,1882.40 L236.90,1881.95 L237.35,1882.24 L237.80,1882.89 L238.25,1881.85 L238.70,1882.29 L239.15,1882.00 L239.60,1882.83 L240.05,1881.60 L240.50,1883.23 L240.95,1882.54 L241.40,1882.47 L241.85,1882.45 L242.30,1882.66 L242.75,1882.70 L243.20,1881.39 L243.65,1881.98 L244.10,1882.53 L244.55,1882.44 L245.00,1883.26 L245.45,1882.71 L245.90,1881.11 L245.80,1877.30 L246.30,1891.50 L246.55,1888.80 L246.80,1886.89 L247.10,1885.33 L247.40,1884.30 L247.80,1883.45 L248.30,1882.87 L248.90,1882.17 L249.60,1882.27 L250.50,1882.23 L250.95,1881.83 L251.40,1880.59 L251.85,1881.73 L252.30,1881.93 L252.75,1881.71 L253.20,1882.86 L253.65,1882.99 L254.10,1881.90 L254.55,1881.78 L255.00,1882.55 L255.45,1882.10 L255.90,1882.84 L256.35,1882.48 L256.80,1880.96 L257.25,1881.97 L257.70,1882.19 L258.15,1882.00 L258.60,1883.15 L259.05,1881.88 L259.50,1882.78 L259.40,1877.30 L259.90,1891.50 L260.15,1888.80 L260.40,1886.89 L260.70,1885.33 L261.00,1884.30 L261.40,1883.45 L261.90,1882.87 L262.50,1881.90 L263.20,1882.41 L264.10,1881.98 L264.55,1882.65 L265.00,1882.49 L265.45,1882.07 L265.90,1881.59 L266.35,1882.07 L266.80,1882.93 L267.25,1882.84 L267.70,1883.47 L268.15,1881.79 L268.60,1882.83 L269.05,1882.71 L269.50,1882.31 L269.95,1881.92 L270.40,1882.40 L270.85,1881.64 L271.30,1882.51 L271.75,1882.64 L272.20,1883.63 L272.65,1881.72 L273.10,1882.50 L273.00,1877.30 L273.50,1891.50 L273.75,1888.80 L274.00,1886.89 L274.30,1885.33 L274.60,1884.30 L275.00,1883.45 L275.50,1882.87 L276.10,1882.00 L276.80,1882.57 L277.70,1882.35 L278.15,1882.56 L278.60,1881.90 L279.05,1881.92 L279.50,1882.23 L279.95,1881.82 L280.40,1882.76 L280.85,1882.09 L281.30,1882.63 L281.75,1881.52 L282.20,1881.65 L282.65,1879.13 L283.10,1882.56 L283.55,1882.41 L284.00,1883.12 L284.45,1882.59 L284.90,1882.97 L285.35,1882.19 L285.80,1882.45 L286.25,1882.24 L286.70,1882.54 L286.60,1877.30 L287.10,1891.50 L287.35,1888.80 L287.60,1886.89 L287.90,1885.33 L288.20,1884.30 L288.60,1883.45 L289.10,1882.87 L289.70,1882.51 L290.40,1882.62 L291.30,1882.52 L291.75,1882.63 L292.20,1882.14 L292.65,1882.69 L293.10,1881.65 L293.55,1881.93 L294.00,1882.52 L294.45,1882.26 L294.90,1882.66 L295.35,1882.15 L295.80,1881.72 L296.25,1882.27 L296.70,1882.17 L297.15,1882.18 L297.60,1882.06 L298.05,1881.53 L298.50,1881.34 L298.95,1883.08 L299.40,1881.71 L299.85,1882.84 L300.30,1882.56 L300.20,1877.30 L300.70,1891.50 L300.95,1888.80 L301.20,1886.89 L301.50,1885.33 L301.80,1884.30 L302.20,1883.45 L302.70,1882.87 L303.30,1882.42 L304.00,1882.33 L304.90,1882.33 L305.35,1882.49 L305.80,1882.22 L306.25,1882.25 L306.70,1882.44 L307.15,1883.06 L307.60,1881.46 L308.05,1881.66 L308.50,1882.41 L308.95,1882.52 L309.40,1883.85 L309.85,1882.53 L310.30,1882.88 L310.75,1882.64 L311.20,1881.66 L311.65,1881.73 L312.10,1881.84 L312.55,1882.97 L313.00,1882.71 L313.45,1881.61 L313.90,1881.65 L313.80,1877.30 L314.30,1891.50 L314.55,1888.80 L314.80,1886.89 L315.10,1885.33 L315.40,1884.30 L315.80,1883.45 L316.30,1882.87 L316.90,1882.47 L317.60,1882.20 L318.50,1882.61 L318.95,1882.24 L319.40,1881.67 L319.85,1882.42 L320.30,1882.84 L320.75,1882.07 L321.20,1882.41 L321.65,1883.18 L322.10,1881.89 L322.55,1881.24 L323.00,1881.40 L323.45,1883.53 L323.90,1881.88 L324.35,1882.39 L324.80,1881.69 L325.25,1881.93 L325.70,1883.65 L326.15,1882.21 L326.60,1881.81 L327.05,1883.26 L327.50,1882.55 L327.40,1877.30 L327.90,1891.50 L328.15,1888.80 L328.40,1886.89 L328.70,1885.33 L329.00,1884.30 L329.40,1883.45 L329.90,1882.87 L330.50,1882.27 L331.20,1882.80 L332.10,1882.53 L332.55,1882.61 L333.00,1882.88 L333.45,1883.14 L333.90,1883.52 L334.35,1882.14 L334.80,1882.05 L335.25,1882.92 L335.70,1881.55 L336.15,1883.21 L336.60,1883.12 L337.05,1881.59 L337.50,1882.33 L337.95,1882.22 L338.40,1881.95 L338.85,1882.22 L339.30,1882.38 L339.75,1881.63 L340.20,1882.46 L340.65,1882.25 L341.10,1881.80 L341.00,1877.30 L341.50,1891.50 L341.75,1888.80 L342.00,1886.89 L342.30,1885.33 L342.60,1884.30 L343.00,1883.45 L343.50,1882.87 L344.10,1882.66 L344.80,1882.61 L345.70,1882.47 L346.15,1881.89 L346.60,1882.53 L347.05,1881.67 L347.50,1881.65 L347.95,1882.31" fill="none" stroke="#141414" stroke-width="1.6" stroke-linejoin="round"/>
<path d="M109.40,2220.20 C113.48,2220.15 125.78,2220.10 133.90,2219.90 C142.02,2219.70 151.90,2219.42 158.10,2219.00 C164.30,2218.58 166.78,2218.50 171.10,2217.40 C175.42,2216.30 180.68,2215.30 184.00,2212.40 C187.32,2209.50 188.88,2205.18 191.00,2200.00 C193.12,2194.82 194.70,2191.30 196.70,2181.30 C198.70,2171.30 200.85,2153.75 203.00,2140.00 C205.15,2126.25 207.43,2109.13 209.60,2098.80 C211.77,2088.47 213.83,2082.55 216.00,2078.00 C218.17,2073.45 219.28,2073.37 222.60,2071.50 C225.92,2069.63 229.27,2067.88 235.90,2066.80 C242.53,2065.72 246.45,2065.37 262.40,2065.00 C278.35,2064.63 320.07,2064.67 331.60,2064.60" fill="none" stroke="#141414" stroke-width="1.3" stroke-linecap="butt" stroke-linejoin="round"/>
<rect x="104.80" y="2215.70" width="9.2" height="9.0" fill="#141414"/>
<rect x="117.10" y="2215.50" width="9.2" height="9.0" fill="#141414"/>
<rect x="129.30" y="2215.30" width="9.2" height="9.0" fill="#141414"/>
<rect x="141.30" y="2214.80" width="9.2" height="9.0" fill="#141414"/>
<rect x="153.50" y="2214.10" width="9.2" height="9.0" fill="#141414"/>
<rect x="166.50" y="2212.60" width="9.2" height="9.0" fill="#141414"/>
<rect x="179.40" y="2207.90" width="9.2" height="9.0" fill="#141414"/>
<rect x="192.10" y="2176.80" width="9.2" height="9.0" fill="#141414"/>
<rect x="205.00" y="2094.30" width="9.2" height="9.0" fill="#141414"/>
<rect x="218.00" y="2067.00" width="9.2" height="9.0" fill="#141414"/>
<rect x="231.30" y="2062.30" width="9.2" height="9.0" fill="#141414"/>
<rect x="244.90" y="2060.90" width="9.2" height="9.0" fill="#141414"/>
<rect x="257.80" y="2060.20" width="9.2" height="9.0" fill="#141414"/>
<rect x="271.70" y="2060.10" width="9.2" height="9.0" fill="#141414"/>
<rect x="285.30" y="2060.10" width="9.2" height="9.0" fill="#141414"/>
<rect x="299.20" y="2060.10" width="9.2" height="9.0" fill="#141414"/>
<rect x="313.00" y="2060.10" width="9.2" height="9.0" fill="#141414"/>
<rect x="327.00" y="2060.10" width="9.2" height="9.0" fill="#141414"/>
<text transform="translate(22.4,1991.00) rotate(-90)" font-size="23"><tspan font-family="Liberation Serif">μ</tspan> Watts</text>
<text transform="translate(26.5,2237.50) rotate(-90)" font-size="22">kJ mol<tspan font-size="13.5" dy="-8">-1</tspan><tspan dy="8"> of injectant</tspan></text>
<rect x="452.50" y="1862.90" width="265.80" height="371.10" fill="none" stroke="#141414" stroke-width="2.4"/>
<line x1="452.50" y1="2048.50" x2="718.30" y2="2048.50" stroke="#141414" stroke-width="2.4" stroke-linecap="butt"/>
<line x1="471.40" y1="1862.90" x2="471.40" y2="1869.10" stroke="#141414" stroke-width="2.0" stroke-linecap="butt"/>
<line x1="490.46" y1="1862.90" x2="490.46" y2="1866.40" stroke="#141414" stroke-width="2.0" stroke-linecap="butt"/>
<line x1="509.52" y1="1862.90" x2="509.52" y2="1869.10" stroke="#141414" stroke-width="2.0" stroke-linecap="butt"/>
<line x1="528.58" y1="1862.90" x2="528.58" y2="1866.40" stroke="#141414" stroke-width="2.0" stroke-linecap="butt"/>
<line x1="547.64" y1="1862.90" x2="547.64" y2="1869.10" stroke="#141414" stroke-width="2.0" stroke-linecap="butt"/>
<line x1="566.70" y1="1862.90" x2="566.70" y2="1866.40" stroke="#141414" stroke-width="2.0" stroke-linecap="butt"/>
<line x1="585.76" y1="1862.90" x2="585.76" y2="1869.10" stroke="#141414" stroke-width="2.0" stroke-linecap="butt"/>
<line x1="604.82" y1="1862.90" x2="604.82" y2="1866.40" stroke="#141414" stroke-width="2.0" stroke-linecap="butt"/>
<line x1="623.88" y1="1862.90" x2="623.88" y2="1869.10" stroke="#141414" stroke-width="2.0" stroke-linecap="butt"/>
<line x1="642.94" y1="1862.90" x2="642.94" y2="1866.40" stroke="#141414" stroke-width="2.0" stroke-linecap="butt"/>
<line x1="662.00" y1="1862.90" x2="662.00" y2="1869.10" stroke="#141414" stroke-width="2.0" stroke-linecap="butt"/>
<line x1="681.06" y1="1862.90" x2="681.06" y2="1866.40" stroke="#141414" stroke-width="2.0" stroke-linecap="butt"/>
<line x1="700.12" y1="1862.90" x2="700.12" y2="1869.10" stroke="#141414" stroke-width="2.0" stroke-linecap="butt"/>
<text x="465.65" y="1852.60" font-size="21.8" >0</text>
<text x="497.34" y="1852.60" font-size="21.8" >10</text>
<text x="535.73" y="1852.60" font-size="21.8" >20</text>
<text x="573.96" y="1852.60" font-size="21.8" >30</text>
<text x="612.24" y="1852.60" font-size="21.8" >40</text>
<text x="650.20" y="1852.60" font-size="21.8" >50</text>
<text x="688.21" y="1852.60" font-size="21.8" >60</text>
<line x1="446.30" y1="2047.38" x2="452.50" y2="2047.38" stroke="#141414" stroke-width="2.0" stroke-linecap="butt"/>
<line x1="712.10" y1="2047.38" x2="718.30" y2="2047.38" stroke="#141414" stroke-width="2.0" stroke-linecap="butt"/>
<line x1="449.00" y1="2033.90" x2="452.50" y2="2033.90" stroke="#141414" stroke-width="2.0" stroke-linecap="butt"/>
<line x1="714.80" y1="2033.90" x2="718.30" y2="2033.90" stroke="#141414" stroke-width="2.0" stroke-linecap="butt"/>
<line x1="446.30" y1="2020.42" x2="452.50" y2="2020.42" stroke="#141414" stroke-width="2.0" stroke-linecap="butt"/>
<line x1="712.10" y1="2020.42" x2="718.30" y2="2020.42" stroke="#141414" stroke-width="2.0" stroke-linecap="butt"/>
<line x1="449.00" y1="2006.94" x2="452.50" y2="2006.94" stroke="#141414" stroke-width="2.0" stroke-linecap="butt"/>
<line x1="714.80" y1="2006.94" x2="718.30" y2="2006.94" stroke="#141414" stroke-width="2.0" stroke-linecap="butt"/>
<line x1="446.30" y1="1993.46" x2="452.50" y2="1993.46" stroke="#141414" stroke-width="2.0" stroke-linecap="butt"/>
<line x1="712.10" y1="1993.46" x2="718.30" y2="1993.46" stroke="#141414" stroke-width="2.0" stroke-linecap="butt"/>
<line x1="449.00" y1="1979.97" x2="452.50" y2="1979.97" stroke="#141414" stroke-width="2.0" stroke-linecap="butt"/>
<line x1="714.80" y1="1979.97" x2="718.30" y2="1979.97" stroke="#141414" stroke-width="2.0" stroke-linecap="butt"/>
<line x1="446.30" y1="1966.49" x2="452.50" y2="1966.49" stroke="#141414" stroke-width="2.0" stroke-linecap="butt"/>
<line x1="712.10" y1="1966.49" x2="718.30" y2="1966.49" stroke="#141414" stroke-width="2.0" stroke-linecap="butt"/>
<line x1="449.00" y1="1953.01" x2="452.50" y2="1953.01" stroke="#141414" stroke-width="2.0" stroke-linecap="butt"/>
<line x1="714.80" y1="1953.01" x2="718.30" y2="1953.01" stroke="#141414" stroke-width="2.0" stroke-linecap="butt"/>
<line x1="446.30" y1="1939.53" x2="452.50" y2="1939.53" stroke="#141414" stroke-width="2.0" stroke-linecap="butt"/>
<line x1="712.10" y1="1939.53" x2="718.30" y2="1939.53" stroke="#141414" stroke-width="2.0" stroke-linecap="butt"/>
<line x1="449.00" y1="1926.05" x2="452.50" y2="1926.05" stroke="#141414" stroke-width="2.0" stroke-linecap="butt"/>
<line x1="714.80" y1="1926.05" x2="718.30" y2="1926.05" stroke="#141414" stroke-width="2.0" stroke-linecap="butt"/>
<line x1="446.30" y1="1912.56" x2="452.50" y2="1912.56" stroke="#141414" stroke-width="2.0" stroke-linecap="butt"/>
<line x1="712.10" y1="1912.56" x2="718.30" y2="1912.56" stroke="#141414" stroke-width="2.0" stroke-linecap="butt"/>
<line x1="449.00" y1="1899.08" x2="452.50" y2="1899.08" stroke="#141414" stroke-width="2.0" stroke-linecap="butt"/>
<line x1="714.80" y1="1899.08" x2="718.30" y2="1899.08" stroke="#141414" stroke-width="2.0" stroke-linecap="butt"/>
<line x1="446.30" y1="1885.60" x2="452.50" y2="1885.60" stroke="#141414" stroke-width="2.0" stroke-linecap="butt"/>
<line x1="712.10" y1="1885.60" x2="718.30" y2="1885.60" stroke="#141414" stroke-width="2.0" stroke-linecap="butt"/>
<line x1="449.00" y1="1872.12" x2="452.50" y2="1872.12" stroke="#141414" stroke-width="2.0" stroke-linecap="butt"/>
<line x1="714.80" y1="1872.12" x2="718.30" y2="1872.12" stroke="#141414" stroke-width="2.0" stroke-linecap="butt"/>
<text x="401.97" y="1891.40" font-size="21.8" >0.00</text>
<text x="394.89" y="1945.33" font-size="21.8" >-0.42</text>
<text x="394.45" y="1999.26" font-size="21.8" >-0.84</text>
<text x="394.78" y="2053.18" font-size="21.8" >-1.26</text>
<line x1="446.30" y1="2227.33" x2="452.50" y2="2227.33" stroke="#141414" stroke-width="2.0" stroke-linecap="butt"/>
<line x1="712.10" y1="2227.33" x2="718.30" y2="2227.33" stroke="#141414" stroke-width="2.0" stroke-linecap="butt"/>
<line x1="449.00" y1="2216.18" x2="452.50" y2="2216.18" stroke="#141414" stroke-width="2.0" stroke-linecap="butt"/>
<line x1="714.80" y1="2216.18" x2="718.30" y2="2216.18" stroke="#141414" stroke-width="2.0" stroke-linecap="butt"/>
<line x1="446.30" y1="2205.04" x2="452.50" y2="2205.04" stroke="#141414" stroke-width="2.0" stroke-linecap="butt"/>
<line x1="712.10" y1="2205.04" x2="718.30" y2="2205.04" stroke="#141414" stroke-width="2.0" stroke-linecap="butt"/>
<line x1="449.00" y1="2193.89" x2="452.50" y2="2193.89" stroke="#141414" stroke-width="2.0" stroke-linecap="butt"/>
<line x1="714.80" y1="2193.89" x2="718.30" y2="2193.89" stroke="#141414" stroke-width="2.0" stroke-linecap="butt"/>
<line x1="446.30" y1="2182.75" x2="452.50" y2="2182.75" stroke="#141414" stroke-width="2.0" stroke-linecap="butt"/>
<line x1="712.10" y1="2182.75" x2="718.30" y2="2182.75" stroke="#141414" stroke-width="2.0" stroke-linecap="butt"/>
<line x1="449.00" y1="2171.60" x2="452.50" y2="2171.60" stroke="#141414" stroke-width="2.0" stroke-linecap="butt"/>
<line x1="714.80" y1="2171.60" x2="718.30" y2="2171.60" stroke="#141414" stroke-width="2.0" stroke-linecap="butt"/>
<line x1="446.30" y1="2160.46" x2="452.50" y2="2160.46" stroke="#141414" stroke-width="2.0" stroke-linecap="butt"/>
<line x1="712.10" y1="2160.46" x2="718.30" y2="2160.46" stroke="#141414" stroke-width="2.0" stroke-linecap="butt"/>
<line x1="449.00" y1="2149.31" x2="452.50" y2="2149.31" stroke="#141414" stroke-width="2.0" stroke-linecap="butt"/>
<line x1="714.80" y1="2149.31" x2="718.30" y2="2149.31" stroke="#141414" stroke-width="2.0" stroke-linecap="butt"/>
<line x1="446.30" y1="2138.17" x2="452.50" y2="2138.17" stroke="#141414" stroke-width="2.0" stroke-linecap="butt"/>
<line x1="712.10" y1="2138.17" x2="718.30" y2="2138.17" stroke="#141414" stroke-width="2.0" stroke-linecap="butt"/>
<line x1="449.00" y1="2127.02" x2="452.50" y2="2127.02" stroke="#141414" stroke-width="2.0" stroke-linecap="butt"/>
<line x1="714.80" y1="2127.02" x2="718.30" y2="2127.02" stroke="#141414" stroke-width="2.0" stroke-linecap="butt"/>
<line x1="446.30" y1="2115.88" x2="452.50" y2="2115.88" stroke="#141414" stroke-width="2.0" stroke-linecap="butt"/>
<line x1="712.10" y1="2115.88" x2="718.30" y2="2115.88" stroke="#141414" stroke-width="2.0" stroke-linecap="butt"/>
<line x1="449.00" y1="2104.73" x2="452.50" y2="2104.73" stroke="#141414" stroke-width="2.0" stroke-linecap="butt"/>
<line x1="714.80" y1="2104.73" x2="718.30" y2="2104.73" stroke="#141414" stroke-width="2.0" stroke-linecap="butt"/>
<line x1="446.30" y1="2093.59" x2="452.50" y2="2093.59" stroke="#141414" stroke-width="2.0" stroke-linecap="butt"/>
<line x1="712.10" y1="2093.59" x2="718.30" y2="2093.59" stroke="#141414" stroke-width="2.0" stroke-linecap="butt"/>
<line x1="449.00" y1="2082.44" x2="452.50" y2="2082.44" stroke="#141414" stroke-width="2.0" stroke-linecap="butt"/>
<line x1="714.80" y1="2082.44" x2="718.30" y2="2082.44" stroke="#141414" stroke-width="2.0" stroke-linecap="butt"/>
<line x1="446.30" y1="2071.30" x2="452.50" y2="2071.30" stroke="#141414" stroke-width="2.0" stroke-linecap="butt"/>
<line x1="712.10" y1="2071.30" x2="718.30" y2="2071.30" stroke="#141414" stroke-width="2.0" stroke-linecap="butt"/>
<line x1="449.00" y1="2060.16" x2="452.50" y2="2060.16" stroke="#141414" stroke-width="2.0" stroke-linecap="butt"/>
<line x1="714.80" y1="2060.16" x2="718.30" y2="2060.16" stroke="#141414" stroke-width="2.0" stroke-linecap="butt"/>
<text x="401.97" y="2077.10" font-size="21.8" >0.00</text>
<text x="382.35" y="2121.68" font-size="21.8" >-16.74</text>
<text x="382.68" y="2166.28" font-size="21.8" >-33.49</text>
<text x="382.68" y="2210.86" font-size="21.8" >-50.23</text>
<line x1="479.10" y1="2048.50" x2="479.10" y2="2053.70" stroke="#141414" stroke-width="2.0" stroke-linecap="butt"/>
<line x1="479.10" y1="2234.00" x2="479.10" y2="2240.00" stroke="#141414" stroke-width="2.0" stroke-linecap="butt"/>
<line x1="505.94" y1="2048.50" x2="505.94" y2="2051.30" stroke="#141414" stroke-width="2.0" stroke-linecap="butt"/>
<line x1="505.94" y1="2234.00" x2="505.94" y2="2237.60" stroke="#141414" stroke-width="2.0" stroke-linecap="butt"/>
<line x1="532.77" y1="2048.50" x2="532.77" y2="2053.70" stroke="#141414" stroke-width="2.0" stroke-linecap="butt"/>
<line x1="532.77" y1="2234.00" x2="532.77" y2="2240.00" stroke="#141414" stroke-width="2.0" stroke-linecap="butt"/>
<line x1="559.61" y1="2048.50" x2="559.61" y2="2051.30" stroke="#141414" stroke-width="2.0" stroke-linecap="butt"/>
<line x1="559.61" y1="2234.00" x2="559.61" y2="2237.60" stroke="#141414" stroke-width="2.0" stroke-linecap="butt"/>
<line x1="586.45" y1="2048.50" x2="586.45" y2="2053.70" stroke="#141414" stroke-width="2.0" stroke-linecap="butt"/>
<line x1="586.45" y1="2234.00" x2="586.45" y2="2240.00" stroke="#141414" stroke-width="2.0" stroke-linecap="butt"/>
<line x1="613.29" y1="2048.50" x2="613.29" y2="2051.30" stroke="#141414" stroke-width="2.0" stroke-linecap="butt"/>
<line x1="613.29" y1="2234.00" x2="613.29" y2="2237.60" stroke="#141414" stroke-width="2.0" stroke-linecap="butt"/>
<line x1="640.12" y1="2048.50" x2="640.12" y2="2053.70" stroke="#141414" stroke-width="2.0" stroke-linecap="butt"/>
<line x1="640.12" y1="2234.00" x2="640.12" y2="2240.00" stroke="#141414" stroke-width="2.0" stroke-linecap="butt"/>
<line x1="666.96" y1="2048.50" x2="666.96" y2="2051.30" stroke="#141414" stroke-width="2.0" stroke-linecap="butt"/>
<line x1="666.96" y1="2234.00" x2="666.96" y2="2237.60" stroke="#141414" stroke-width="2.0" stroke-linecap="butt"/>
<line x1="693.80" y1="2048.50" x2="693.80" y2="2053.70" stroke="#141414" stroke-width="2.0" stroke-linecap="butt"/>
<line x1="693.80" y1="2234.00" x2="693.80" y2="2240.00" stroke="#141414" stroke-width="2.0" stroke-linecap="butt"/>
<text x="464.25" y="2261.80" font-size="21.8" >0.0</text>
<text x="517.92" y="2261.80" font-size="21.8" >0.5</text>
<text x="571.22" y="2261.80" font-size="21.8" >1.0</text>
<text x="624.89" y="2261.80" font-size="21.8" >1.5</text>
<text x="678.84" y="2261.80" font-size="21.8" >2.0</text>
<text x="429.89" y="1788.20" font-size="25.3" >AtDREB2A(244-272; L264I)</text>
<text x="539.55" y="1825.40" font-size="23.0" >Time (min)</text>
<text x="538.74" y="2292.40" font-size="22.9" >Molar ratio</text>
<path d="M471.30,1883.79 L471.75,1883.84 L472.20,1885.04 L472.65,1882.23 L473.10,1887.47 L473.55,1884.77 L474.00,1884.43 L474.45,1885.71 L474.90,1886.51 L475.35,1885.58 L475.80,1885.58 L476.25,1884.65 L476.70,1884.27 L477.15,1884.99 L477.60,1885.75 L478.05,1886.48 L478.50,1884.60 L478.95,1889.09 L479.40,1886.47 L479.85,1888.81 L480.30,1886.46 L480.75,1884.74 L481.20,1885.82 L481.65,1885.92 L482.10,1887.68 L482.55,1885.55 L483.00,1886.00 L483.30,2014.50 L483.55,1976.66 L483.80,1949.92 L484.10,1927.97 L484.40,1913.50 L484.80,1901.56 L485.30,1893.52 L485.90,1889.33 L486.60,1886.06 L487.50,1885.81 L487.95,1884.45 L488.40,1885.49 L488.85,1882.70 L489.30,1882.70 L489.75,1886.92 L490.20,1887.02 L490.65,1888.78 L491.10,1888.63 L491.55,1884.02 L492.00,1883.02 L492.45,1885.11 L492.90,1887.35 L493.35,1882.75 L493.80,1886.61 L494.25,1886.22 L494.40,1886.00 L494.70,2027.10 L494.95,1985.56 L495.20,1956.21 L495.50,1932.11 L495.80,1916.23 L496.20,1903.13 L496.70,1894.30 L497.30,1888.44 L498.00,1888.34 L498.90,1885.73 L499.35,1886.33 L499.80,1883.67 L500.25,1880.95 L500.70,1887.28 L501.15,1885.35 L501.60,1883.25 L502.05,1883.99 L502.50,1892.17 L502.95,1886.61 L503.40,1885.90 L503.85,1884.85 L504.30,1883.76 L504.75,1883.63 L505.20,1887.16 L505.65,1887.76 L505.80,1886.00 L506.10,2019.30 L506.35,1980.05 L506.60,1952.31 L506.90,1929.55 L507.20,1914.54 L507.60,1902.16 L508.10,1893.82 L508.70,1890.53 L509.40,1886.86 L510.30,1884.72 L510.75,1885.67 L511.20,1884.83 L511.65,1885.96 L512.10,1887.47 L512.55,1884.99 L513.00,1886.48 L513.45,1886.11 L513.90,1883.86 L514.35,1887.45 L514.80,1884.24 L515.25,1883.40 L515.70,1885.18 L516.15,1887.14 L516.60,1884.55 L517.05,1888.87 L517.20,1886.00 L517.50,2008.20 L517.75,1972.21 L518.00,1946.77 L518.30,1925.89 L518.60,1912.13 L519.00,1900.78 L519.50,1893.13 L520.10,1889.73 L520.80,1886.82 L521.70,1884.56 L522.15,1886.12 L522.60,1884.30 L523.05,1887.20 L523.50,1883.86 L523.95,1887.76 L524.40,1889.09 L524.85,1884.96 L525.30,1886.89 L525.75,1887.89 L526.20,1884.67 L526.65,1883.34 L527.10,1885.86 L527.55,1883.62 L528.00,1883.72 L528.45,1883.74 L528.60,1886.00 L528.90,1996.80 L529.15,1964.15 L529.40,1941.08 L529.70,1922.14 L530.00,1909.65 L530.40,1899.36 L530.90,1892.42 L531.50,1888.93 L532.20,1886.71 L533.10,1886.04 L533.55,1887.67 L534.00,1884.48 L534.45,1885.68 L534.90,1885.12 L535.35,1887.34 L535.80,1884.12 L536.25,1885.81 L536.70,1886.03 L537.15,1888.62 L537.60,1885.23 L538.05,1886.97 L538.50,1885.22 L538.95,1885.78 L539.40,1884.23 L539.85,1885.13 L540.00,1886.00 L540.30,1983.50 L540.55,1954.75 L540.80,1934.44 L541.10,1917.76 L541.40,1906.77 L541.80,1897.70 L542.30,1891.59 L542.90,1888.46 L543.60,1885.81 L544.50,1885.51 L544.95,1886.09 L545.40,1889.17 L545.85,1884.49 L546.30,1885.55 L546.75,1885.46 L547.20,1884.90 L547.65,1884.97 L548.10,1884.40 L548.55,1886.58 L549.00,1886.90 L549.45,1885.26 L549.90,1884.57 L550.35,1884.86 L550.80,1884.40 L551.25,1886.14 L551.40,1886.00 L551.70,1964.80 L551.95,1941.54 L552.20,1925.10 L552.50,1911.61 L552.80,1902.71 L553.20,1895.37 L553.70,1890.43 L554.30,1887.46 L555.00,1887.11 L555.90,1885.17 L556.35,1885.92 L556.80,1887.28 L557.25,1885.65 L557.70,1885.72 L558.15,1884.43 L558.60,1886.70 L559.05,1885.42 L559.50,1884.29 L559.95,1883.94 L560.40,1885.58 L560.85,1884.28 L561.30,1884.98 L561.75,1887.20 L562.20,1885.37 L562.65,1883.56 L562.80,1886.00 L563.10,1946.00 L563.35,1928.25 L563.60,1915.71 L563.90,1905.42 L564.20,1898.63 L564.60,1893.03 L565.10,1889.26 L565.70,1885.58 L566.40,1886.56 L567.30,1886.93 L567.75,1885.73 L568.20,1884.97 L568.65,1883.52 L569.10,1884.41 L569.55,1886.45 L570.00,1884.71 L570.45,1888.11 L570.90,1884.97 L571.35,1884.05 L571.80,1886.18 L572.25,1885.07 L572.70,1884.20 L573.15,1885.52 L573.60,1885.71 L574.05,1884.99 L574.20,1886.00 L574.50,1923.40 L574.75,1912.28 L575.00,1904.43 L575.30,1897.98 L575.60,1893.72 L576.00,1890.22 L576.50,1887.86 L577.10,1887.13 L577.80,1884.85 L578.70,1888.18 L579.15,1884.81 L579.60,1886.06 L580.05,1884.65 L580.50,1885.32 L580.95,1884.74 L581.40,1886.67 L581.85,1887.11 L582.30,1885.19 L582.75,1885.20 L583.20,1885.95 L583.65,1885.72 L584.10,1886.06 L584.55,1884.96 L585.00,1884.14 L585.45,1884.51 L585.60,1886.00 L585.90,1909.60 L586.15,1902.53 L586.40,1897.53 L586.70,1893.43 L587.00,1890.73 L587.40,1888.50 L587.90,1887.00 L588.50,1887.20 L589.20,1886.13 L590.10,1883.98 L590.55,1885.38 L591.00,1885.35 L591.45,1887.33 L591.90,1884.73 L592.35,1885.42 L592.80,1885.42 L593.25,1884.59 L593.70,1887.35 L594.15,1886.60 L594.60,1884.61 L595.05,1884.90 L595.50,1882.97 L595.95,1887.82 L596.40,1886.28 L596.85,1885.77 L597.00,1886.00 L597.30,1900.40 L597.55,1896.03 L597.80,1892.94 L598.10,1890.40 L598.40,1888.73 L598.80,1887.36 L599.30,1886.43 L599.90,1885.96 L600.60,1886.01 L601.50,1885.71 L601.95,1884.78 L602.40,1885.62 L602.85,1886.80 L603.30,1884.91 L603.75,1886.02 L604.20,1886.02 L604.65,1884.04 L605.10,1883.92 L605.55,1884.46 L606.00,1885.81 L606.45,1885.97 L606.90,1886.77 L607.35,1883.16 L607.80,1882.51 L608.25,1886.07 L608.20,1881.50 L608.70,1898.00 L608.95,1894.33 L609.20,1891.74 L609.50,1889.61 L609.80,1888.21 L610.20,1887.06 L610.70,1886.28 L611.30,1885.51 L612.00,1885.70 L612.90,1885.03 L613.35,1886.51 L613.80,1885.47 L614.25,1886.67 L614.70,1885.84 L615.15,1887.16 L615.60,1883.18 L616.05,1888.01 L616.50,1882.06 L616.95,1886.12 L617.40,1884.95 L617.85,1887.60 L618.30,1885.60 L618.75,1885.81 L619.20,1882.32 L619.65,1887.78 L619.80,1886.00 L620.10,1899.50 L620.35,1895.39 L620.60,1892.49 L620.90,1890.11 L621.20,1888.54 L621.60,1887.24 L622.10,1886.37 L622.70,1885.30 L623.40,1885.76 L624.30,1885.82 L624.75,1886.42 L625.20,1884.56 L625.65,1882.81 L626.10,1887.84 L626.55,1886.44 L627.00,1881.32 L627.45,1884.19 L627.90,1885.96 L628.35,1885.81 L628.80,1885.94 L629.25,1885.31 L629.70,1885.09 L630.15,1885.81 L630.60,1885.14 L631.05,1885.94 L631.20,1886.00 L631.50,1900.40 L631.75,1896.03 L632.00,1892.94 L632.30,1890.40 L632.60,1888.73 L633.00,1887.36 L633.50,1886.43 L634.10,1886.27 L634.80,1886.43 L635.70,1886.09 L636.15,1886.14 L636.60,1887.22 L637.05,1884.57 L637.50,1887.30 L637.95,1885.70 L638.40,1884.05 L638.85,1886.92 L639.30,1884.94 L639.75,1886.98 L640.20,1886.44 L640.65,1886.33 L641.10,1886.03 L641.55,1884.36 L642.00,1885.52 L642.45,1886.11 L642.60,1886.00 L642.90,1899.50 L643.15,1895.39 L643.40,1892.49 L643.70,1890.11 L644.00,1888.54 L644.40,1887.24 L644.90,1886.37 L645.50,1885.89 L646.20,1885.90 L647.10,1885.73 L647.55,1886.63 L648.00,1884.39 L648.45,1886.10 L648.90,1887.18 L649.35,1884.22 L649.80,1883.00 L650.25,1886.45 L650.70,1885.19 L651.15,1883.27 L651.60,1884.93 L652.05,1886.02 L652.50,1885.33 L652.95,1887.67 L653.40,1885.85 L653.85,1883.66 L654.00,1886.00 L654.30,1900.70 L654.55,1896.24 L654.80,1893.09 L655.10,1890.50 L655.40,1888.80 L655.80,1887.39 L656.30,1886.45 L656.90,1886.38 L657.60,1886.15 L658.50,1885.14 L658.95,1884.82 L659.40,1885.39 L659.85,1885.70 L660.30,1885.41 L660.75,1884.86 L661.20,1885.10 L661.65,1883.97 L662.10,1886.43 L662.55,1886.36 L663.00,1884.07 L663.45,1886.13 L663.90,1881.75 L664.35,1884.72 L664.80,1886.09 L665.25,1884.11 L665.20,1881.50 L665.70,1898.70 L665.95,1894.83 L666.20,1892.09 L666.50,1889.85 L666.80,1888.36 L667.20,1887.14 L667.70,1886.32 L668.30,1886.79 L669.00,1885.83 L669.90,1885.14 L670.35,1886.13 L670.80,1884.24 L671.25,1884.98 L671.70,1884.85 L672.15,1886.38 L672.60,1886.68 L673.05,1883.87 L673.50,1887.32 L673.95,1884.03 L674.40,1887.38 L674.85,1886.84 L675.30,1885.87 L675.75,1884.27 L676.20,1883.64 L676.65,1881.50 L676.60,1881.50 L677.10,1898.30 L677.35,1894.55 L677.60,1891.89 L677.90,1889.71 L678.20,1888.28 L678.60,1887.09 L679.10,1886.30 L679.70,1884.88 L680.40,1885.56 L681.30,1885.47 L681.75,1885.81 L682.20,1883.26 L682.65,1885.84 L683.10,1886.82 L683.55,1882.48 L684.00,1882.97 L684.45,1884.91 L684.90,1884.74 L685.35,1883.91 L685.80,1886.66 L686.25,1886.21 L686.70,1885.23 L687.15,1884.29 L687.60,1885.38 L688.05,1884.95 L688.50,1888.48 L688.95,1884.67 L689.40,1885.36" fill="none" stroke="#141414" stroke-width="1.7" stroke-linejoin="round"/>
<path d="M490.00,2213.80 C493.85,2213.70 505.43,2213.75 513.10,2213.20 C520.77,2212.65 529.85,2211.87 536.00,2210.50 C542.15,2209.13 546.03,2207.50 550.00,2205.00 C553.97,2202.50 556.17,2200.50 559.80,2195.50 C563.43,2190.50 568.77,2182.58 571.80,2175.00 C574.83,2167.42 576.02,2158.65 578.00,2150.00 C579.98,2141.35 581.70,2131.43 583.70,2123.10 C585.70,2114.77 588.02,2105.78 590.00,2100.00 C591.98,2094.22 593.60,2092.07 595.60,2088.40 C597.60,2084.73 599.90,2080.45 602.00,2078.00 C604.10,2075.55 605.12,2074.78 608.20,2073.70 C611.28,2072.62 605.67,2071.90 620.50,2071.50 C635.33,2071.10 684.42,2071.33 697.20,2071.30" fill="none" stroke="#141414" stroke-width="1.3" stroke-linecap="butt" stroke-linejoin="round"/>
<rect x="496.60" y="2210.00" width="9.2" height="9.0" fill="#141414"/>
<rect x="508.50" y="2216.80" width="9.2" height="9.0" fill="#141414"/>
<rect x="519.80" y="2209.00" width="9.2" height="9.0" fill="#141414"/>
<rect x="531.40" y="2204.50" width="9.2" height="9.0" fill="#141414"/>
<rect x="543.00" y="2202.80" width="9.2" height="9.0" fill="#141414"/>
<rect x="555.20" y="2189.20" width="9.2" height="9.0" fill="#141414"/>
<rect x="567.20" y="2174.90" width="9.2" height="9.0" fill="#141414"/>
<rect x="579.10" y="2118.60" width="9.2" height="9.0" fill="#141414"/>
<rect x="591.00" y="2083.90" width="9.2" height="9.0" fill="#141414"/>
<rect x="603.60" y="2069.20" width="9.2" height="9.0" fill="#141414"/>
<rect x="615.90" y="2066.50" width="9.2" height="9.0" fill="#141414"/>
<rect x="628.20" y="2068.20" width="9.2" height="9.0" fill="#141414"/>
<rect x="640.80" y="2066.50" width="9.2" height="9.0" fill="#141414"/>
<rect x="653.40" y="2068.20" width="9.2" height="9.0" fill="#141414"/>
<rect x="666.00" y="2068.20" width="9.2" height="9.0" fill="#141414"/>
<rect x="679.60" y="2065.80" width="9.2" height="9.0" fill="#141414"/>
<rect x="692.60" y="2066.80" width="9.2" height="9.0" fill="#141414"/>
<rect x="823.30" y="1862.80" width="268.50" height="371.20" fill="none" stroke="#141414" stroke-width="2.4"/>
<line x1="823.30" y1="2049.00" x2="1091.80" y2="2049.00" stroke="#141414" stroke-width="2.4" stroke-linecap="butt"/>
<line x1="842.30" y1="1862.80" x2="842.30" y2="1869.00" stroke="#141414" stroke-width="2.0" stroke-linecap="butt"/>
<line x1="861.47" y1="1862.80" x2="861.47" y2="1866.30" stroke="#141414" stroke-width="2.0" stroke-linecap="butt"/>
<line x1="880.65" y1="1862.80" x2="880.65" y2="1869.00" stroke="#141414" stroke-width="2.0" stroke-linecap="butt"/>
<line x1="899.82" y1="1862.80" x2="899.82" y2="1866.30" stroke="#141414" stroke-width="2.0" stroke-linecap="butt"/>
<line x1="919.00" y1="1862.80" x2="919.00" y2="1869.00" stroke="#141414" stroke-width="2.0" stroke-linecap="butt"/>
<line x1="938.17" y1="1862.80" x2="938.17" y2="1866.30" stroke="#141414" stroke-width="2.0" stroke-linecap="butt"/>
<line x1="957.35" y1="1862.80" x2="957.35" y2="1869.00" stroke="#141414" stroke-width="2.0" stroke-linecap="butt"/>
<line x1="976.52" y1="1862.80" x2="976.52" y2="1866.30" stroke="#141414" stroke-width="2.0" stroke-linecap="butt"/>
<line x1="995.70" y1="1862.80" x2="995.70" y2="1869.00" stroke="#141414" stroke-width="2.0" stroke-linecap="butt"/>
<line x1="1014.88" y1="1862.80" x2="1014.88" y2="1866.30" stroke="#141414" stroke-width="2.0" stroke-linecap="butt"/>
<line x1="1034.05" y1="1862.80" x2="1034.05" y2="1869.00" stroke="#141414" stroke-width="2.0" stroke-linecap="butt"/>
<line x1="1053.22" y1="1862.80" x2="1053.22" y2="1866.30" stroke="#141414" stroke-width="2.0" stroke-linecap="butt"/>
<line x1="1072.40" y1="1862.80" x2="1072.40" y2="1869.00" stroke="#141414" stroke-width="2.0" stroke-linecap="butt"/>
<text x="836.55" y="1852.60" font-size="21.8" >0</text>
<text x="868.47" y="1852.60" font-size="21.8" >10</text>
<text x="907.09" y="1852.60" font-size="21.8" >20</text>
<text x="945.55" y="1852.60" font-size="21.8" >30</text>
<text x="984.06" y="1852.60" font-size="21.8" >40</text>
<text x="1022.25" y="1852.60" font-size="21.8" >50</text>
<text x="1060.49" y="1852.60" font-size="21.8" >60</text>
<line x1="819.80" y1="2033.12" x2="823.30" y2="2033.12" stroke="#141414" stroke-width="2.0" stroke-linecap="butt"/>
<line x1="1088.30" y1="2033.12" x2="1091.80" y2="2033.12" stroke="#141414" stroke-width="2.0" stroke-linecap="butt"/>
<line x1="817.10" y1="2017.12" x2="823.30" y2="2017.12" stroke="#141414" stroke-width="2.0" stroke-linecap="butt"/>
<line x1="1085.60" y1="2017.12" x2="1091.80" y2="2017.12" stroke="#141414" stroke-width="2.0" stroke-linecap="butt"/>
<line x1="819.80" y1="2001.11" x2="823.30" y2="2001.11" stroke="#141414" stroke-width="2.0" stroke-linecap="butt"/>
<line x1="1088.30" y1="2001.11" x2="1091.80" y2="2001.11" stroke="#141414" stroke-width="2.0" stroke-linecap="butt"/>
<line x1="817.10" y1="1985.11" x2="823.30" y2="1985.11" stroke="#141414" stroke-width="2.0" stroke-linecap="butt"/>
<line x1="1085.60" y1="1985.11" x2="1091.80" y2="1985.11" stroke="#141414" stroke-width="2.0" stroke-linecap="butt"/>
<line x1="819.80" y1="1969.11" x2="823.30" y2="1969.11" stroke="#141414" stroke-width="2.0" stroke-linecap="butt"/>
<line x1="1088.30" y1="1969.11" x2="1091.80" y2="1969.11" stroke="#141414" stroke-width="2.0" stroke-linecap="butt"/>
<line x1="817.10" y1="1953.11" x2="823.30" y2="1953.11" stroke="#141414" stroke-width="2.0" stroke-linecap="butt"/>
<line x1="1085.60" y1="1953.11" x2="1091.80" y2="1953.11" stroke="#141414" stroke-width="2.0" stroke-linecap="butt"/>
<line x1="819.80" y1="1937.11" x2="823.30" y2="1937.11" stroke="#141414" stroke-width="2.0" stroke-linecap="butt"/>
<line x1="1088.30" y1="1937.11" x2="1091.80" y2="1937.11" stroke="#141414" stroke-width="2.0" stroke-linecap="butt"/>
<line x1="817.10" y1="1921.10" x2="823.30" y2="1921.10" stroke="#141414" stroke-width="2.0" stroke-linecap="butt"/>
<line x1="1085.60" y1="1921.10" x2="1091.80" y2="1921.10" stroke="#141414" stroke-width="2.0" stroke-linecap="butt"/>
<line x1="819.80" y1="1905.10" x2="823.30" y2="1905.10" stroke="#141414" stroke-width="2.0" stroke-linecap="butt"/>
<line x1="1088.30" y1="1905.10" x2="1091.80" y2="1905.10" stroke="#141414" stroke-width="2.0" stroke-linecap="butt"/>
<line x1="817.10" y1="1889.10" x2="823.30" y2="1889.10" stroke="#141414" stroke-width="2.0" stroke-linecap="butt"/>
<line x1="1085.60" y1="1889.10" x2="1091.80" y2="1889.10" stroke="#141414" stroke-width="2.0" stroke-linecap="butt"/>
<line x1="819.80" y1="1873.10" x2="823.30" y2="1873.10" stroke="#141414" stroke-width="2.0" stroke-linecap="butt"/>
<line x1="1088.30" y1="1873.10" x2="1091.80" y2="1873.10" stroke="#141414" stroke-width="2.0" stroke-linecap="butt"/>
<text x="773.37" y="1894.90" font-size="21.8" >0.00</text>
<text x="765.85" y="1958.91" font-size="21.8" >-0.84</text>
<text x="766.29" y="2022.15" font-size="21.8" >-1.67</text>
<line x1="819.80" y1="2225.94" x2="823.30" y2="2225.94" stroke="#141414" stroke-width="2.0" stroke-linecap="butt"/>
<line x1="1088.30" y1="2225.94" x2="1091.80" y2="2225.94" stroke="#141414" stroke-width="2.0" stroke-linecap="butt"/>
<line x1="817.10" y1="2211.16" x2="823.30" y2="2211.16" stroke="#141414" stroke-width="2.0" stroke-linecap="butt"/>
<line x1="1085.60" y1="2211.16" x2="1091.80" y2="2211.16" stroke="#141414" stroke-width="2.0" stroke-linecap="butt"/>
<line x1="819.80" y1="2196.37" x2="823.30" y2="2196.37" stroke="#141414" stroke-width="2.0" stroke-linecap="butt"/>
<line x1="1088.30" y1="2196.37" x2="1091.80" y2="2196.37" stroke="#141414" stroke-width="2.0" stroke-linecap="butt"/>
<line x1="817.10" y1="2181.58" x2="823.30" y2="2181.58" stroke="#141414" stroke-width="2.0" stroke-linecap="butt"/>
<line x1="1085.60" y1="2181.58" x2="1091.80" y2="2181.58" stroke="#141414" stroke-width="2.0" stroke-linecap="butt"/>
<line x1="819.80" y1="2166.80" x2="823.30" y2="2166.80" stroke="#141414" stroke-width="2.0" stroke-linecap="butt"/>
<line x1="1088.30" y1="2166.80" x2="1091.80" y2="2166.80" stroke="#141414" stroke-width="2.0" stroke-linecap="butt"/>
<line x1="817.10" y1="2152.01" x2="823.30" y2="2152.01" stroke="#141414" stroke-width="2.0" stroke-linecap="butt"/>
<line x1="1085.60" y1="2152.01" x2="1091.80" y2="2152.01" stroke="#141414" stroke-width="2.0" stroke-linecap="butt"/>
<line x1="819.80" y1="2137.23" x2="823.30" y2="2137.23" stroke="#141414" stroke-width="2.0" stroke-linecap="butt"/>
<line x1="1088.30" y1="2137.23" x2="1091.80" y2="2137.23" stroke="#141414" stroke-width="2.0" stroke-linecap="butt"/>
<line x1="817.10" y1="2122.44" x2="823.30" y2="2122.44" stroke="#141414" stroke-width="2.0" stroke-linecap="butt"/>
<line x1="1085.60" y1="2122.44" x2="1091.80" y2="2122.44" stroke="#141414" stroke-width="2.0" stroke-linecap="butt"/>
<line x1="819.80" y1="2107.66" x2="823.30" y2="2107.66" stroke="#141414" stroke-width="2.0" stroke-linecap="butt"/>
<line x1="1088.30" y1="2107.66" x2="1091.80" y2="2107.66" stroke="#141414" stroke-width="2.0" stroke-linecap="butt"/>
<line x1="817.10" y1="2092.87" x2="823.30" y2="2092.87" stroke="#141414" stroke-width="2.0" stroke-linecap="butt"/>
<line x1="1085.60" y1="2092.87" x2="1091.80" y2="2092.87" stroke="#141414" stroke-width="2.0" stroke-linecap="butt"/>
<line x1="819.80" y1="2078.09" x2="823.30" y2="2078.09" stroke="#141414" stroke-width="2.0" stroke-linecap="butt"/>
<line x1="1088.30" y1="2078.09" x2="1091.80" y2="2078.09" stroke="#141414" stroke-width="2.0" stroke-linecap="butt"/>
<line x1="817.10" y1="2063.30" x2="823.30" y2="2063.30" stroke="#141414" stroke-width="2.0" stroke-linecap="butt"/>
<line x1="1085.60" y1="2063.30" x2="1091.80" y2="2063.30" stroke="#141414" stroke-width="2.0" stroke-linecap="butt"/>
<text x="773.37" y="2069.10" font-size="21.8" >0.00</text>
<text x="753.75" y="2128.24" font-size="21.8" >-16.74</text>
<text x="754.08" y="2187.42" font-size="21.8" >-33.49</text>
<line x1="823.51" y1="2234.00" x2="823.51" y2="2237.60" stroke="#141414" stroke-width="2.0" stroke-linecap="butt"/>
<line x1="844.10" y1="2049.00" x2="844.10" y2="2054.20" stroke="#141414" stroke-width="2.0" stroke-linecap="butt"/>
<line x1="844.10" y1="2234.00" x2="844.10" y2="2240.00" stroke="#141414" stroke-width="2.0" stroke-linecap="butt"/>
<line x1="864.69" y1="2049.00" x2="864.69" y2="2051.80" stroke="#141414" stroke-width="2.0" stroke-linecap="butt"/>
<line x1="864.69" y1="2234.00" x2="864.69" y2="2237.60" stroke="#141414" stroke-width="2.0" stroke-linecap="butt"/>
<line x1="885.29" y1="2049.00" x2="885.29" y2="2054.20" stroke="#141414" stroke-width="2.0" stroke-linecap="butt"/>
<line x1="885.29" y1="2234.00" x2="885.29" y2="2240.00" stroke="#141414" stroke-width="2.0" stroke-linecap="butt"/>
<line x1="905.88" y1="2049.00" x2="905.88" y2="2051.80" stroke="#141414" stroke-width="2.0" stroke-linecap="butt"/>
<line x1="905.88" y1="2234.00" x2="905.88" y2="2237.60" stroke="#141414" stroke-width="2.0" stroke-linecap="butt"/>
<line x1="926.47" y1="2049.00" x2="926.47" y2="2054.20" stroke="#141414" stroke-width="2.0" stroke-linecap="butt"/>
<line x1="926.47" y1="2234.00" x2="926.47" y2="2240.00" stroke="#141414" stroke-width="2.0" stroke-linecap="butt"/>
<line x1="947.06" y1="2049.00" x2="947.06" y2="2051.80" stroke="#141414" stroke-width="2.0" stroke-linecap="butt"/>
<line x1="947.06" y1="2234.00" x2="947.06" y2="2237.60" stroke="#141414" stroke-width="2.0" stroke-linecap="butt"/>
<line x1="967.65" y1="2049.00" x2="967.65" y2="2054.20" stroke="#141414" stroke-width="2.0" stroke-linecap="butt"/>
<line x1="967.65" y1="2234.00" x2="967.65" y2="2240.00" stroke="#141414" stroke-width="2.0" stroke-linecap="butt"/>
<line x1="988.25" y1="2049.00" x2="988.25" y2="2051.80" stroke="#141414" stroke-width="2.0" stroke-linecap="butt"/>
<line x1="988.25" y1="2234.00" x2="988.25" y2="2237.60" stroke="#141414" stroke-width="2.0" stroke-linecap="butt"/>
<line x1="1008.84" y1="2049.00" x2="1008.84" y2="2054.20" stroke="#141414" stroke-width="2.0" stroke-linecap="butt"/>
<line x1="1008.84" y1="2234.00" x2="1008.84" y2="2240.00" stroke="#141414" stroke-width="2.0" stroke-linecap="butt"/>
<line x1="1029.43" y1="2049.00" x2="1029.43" y2="2051.80" stroke="#141414" stroke-width="2.0" stroke-linecap="butt"/>
<line x1="1029.43" y1="2234.00" x2="1029.43" y2="2237.60" stroke="#141414" stroke-width="2.0" stroke-linecap="butt"/>
<line x1="1050.03" y1="2049.00" x2="1050.03" y2="2054.20" stroke="#141414" stroke-width="2.0" stroke-linecap="butt"/>
<line x1="1050.03" y1="2234.00" x2="1050.03" y2="2240.00" stroke="#141414" stroke-width="2.0" stroke-linecap="butt"/>
<line x1="1070.62" y1="2049.00" x2="1070.62" y2="2051.80" stroke="#141414" stroke-width="2.0" stroke-linecap="butt"/>
<line x1="1070.62" y1="2234.00" x2="1070.62" y2="2237.60" stroke="#141414" stroke-width="2.0" stroke-linecap="butt"/>
<line x1="1091.21" y1="2234.00" x2="1091.21" y2="2240.00" stroke="#141414" stroke-width="2.0" stroke-linecap="butt"/>
<text x="829.25" y="2261.80" font-size="21.8" >0.0</text>
<text x="870.43" y="2261.80" font-size="21.8" >0.5</text>
<text x="911.24" y="2261.80" font-size="21.8" >1.0</text>
<text x="952.42" y="2261.80" font-size="21.8" >1.5</text>
<text x="993.88" y="2261.80" font-size="21.8" >2.0</text>
<text x="1035.07" y="2261.80" font-size="21.8" >2.5</text>
<text x="1076.36" y="2261.80" font-size="21.8" >3.0</text>
<text x="809.52" y="1788.20" font-size="25.3" >ANAC013(254-274; L266I)</text>
<text x="913.25" y="1825.40" font-size="23.0" >Time (min)</text>
<text x="912.24" y="2292.40" font-size="22.9" >Molar ratio</text>
<path d="M842.20,1888.53 L842.65,1889.64 L843.10,1887.55 L843.55,1888.59 L844.00,1890.40 L844.45,1889.26 L844.90,1886.48 L845.35,1890.14 L845.80,1886.45 L846.25,1886.37 L846.70,1889.34 L847.15,1888.83 L847.60,1889.35 L848.05,1889.47 L848.50,1889.71 L848.95,1890.64 L849.40,1888.40 L849.85,1888.75 L850.30,1888.25 L850.75,1887.51 L851.20,1887.73 L851.65,1889.25 L852.10,1888.97 L852.55,1890.79 L853.00,1888.75 L853.45,1887.71 L853.90,1889.40 L854.20,2025.50 L854.45,1985.43 L854.70,1957.11 L855.00,1933.87 L855.30,1918.54 L855.70,1905.91 L856.20,1897.39 L856.80,1891.53 L857.50,1890.90 L858.40,1890.34 L858.85,1889.43 L859.30,1889.79 L859.75,1888.01 L860.20,1887.50 L860.65,1888.13 L861.10,1886.79 L861.55,1889.25 L862.00,1886.15 L862.45,1885.25 L862.90,1885.33 L863.35,1890.32 L863.80,1889.26 L864.25,1889.53 L864.70,1889.65 L865.15,1889.69 L865.45,1889.40 L865.75,2015.60 L866.00,1978.43 L866.25,1952.17 L866.55,1930.61 L866.85,1916.40 L867.25,1904.68 L867.75,1896.78 L868.35,1893.02 L869.05,1890.58 L869.95,1889.88 L870.40,1886.27 L870.85,1887.00 L871.30,1891.23 L871.75,1889.37 L872.20,1889.84 L872.65,1886.79 L873.10,1888.30 L873.55,1887.62 L874.00,1890.27 L874.45,1886.90 L874.90,1888.70 L875.35,1890.94 L875.80,1887.41 L876.25,1887.76 L876.70,1889.82 L877.00,1889.40 L877.30,2004.00 L877.55,1970.24 L877.80,1946.38 L878.10,1926.79 L878.40,1913.88 L878.80,1903.23 L879.30,1896.06 L879.90,1892.26 L880.60,1890.18 L881.50,1888.96 L881.95,1889.30 L882.40,1891.34 L882.85,1889.72 L883.30,1888.28 L883.75,1888.36 L884.20,1888.41 L884.65,1889.46 L885.10,1887.27 L885.55,1889.25 L886.00,1888.27 L886.45,1889.85 L886.90,1892.42 L887.35,1889.41 L887.80,1888.57 L888.25,1888.81 L888.55,1889.40 L888.85,1986.00 L889.10,1957.52 L889.35,1937.39 L889.65,1920.86 L889.95,1909.97 L890.35,1900.99 L890.85,1894.94 L891.45,1892.26 L892.15,1889.05 L893.05,1889.81 L893.50,1891.06 L893.95,1888.41 L894.40,1889.80 L894.85,1890.48 L895.30,1886.80 L895.75,1889.15 L896.20,1892.71 L896.65,1890.06 L897.10,1889.10 L897.55,1890.42 L898.00,1888.47 L898.45,1890.23 L898.90,1888.51 L899.35,1889.22 L899.80,1889.83 L900.10,1889.40 L900.40,1971.70 L900.65,1947.41 L900.90,1930.25 L901.20,1916.16 L901.50,1906.87 L901.90,1899.21 L902.40,1894.05 L903.00,1891.58 L903.70,1889.05 L904.60,1890.06 L905.05,1889.98 L905.50,1888.90 L905.95,1887.25 L906.40,1887.61 L906.85,1891.16 L907.30,1886.04 L907.75,1890.94 L908.20,1889.48 L908.65,1889.49 L909.10,1890.55 L909.55,1891.06 L910.00,1887.82 L910.45,1892.15 L910.90,1890.97 L911.35,1888.52 L911.65,1889.40 L911.95,1951.10 L912.20,1932.85 L912.45,1919.96 L912.75,1909.38 L913.05,1902.40 L913.45,1896.64 L913.95,1892.77 L914.55,1889.24 L915.25,1890.13 L916.15,1889.08 L916.60,1890.11 L917.05,1888.81 L917.50,1890.41 L917.95,1887.93 L918.40,1890.18 L918.85,1886.05 L919.30,1890.45 L919.75,1888.62 L920.20,1888.86 L920.65,1891.50 L921.10,1888.96 L921.55,1888.61 L922.00,1887.07 L922.45,1886.51 L922.90,1888.03 L923.20,1889.40 L923.50,1929.00 L923.75,1917.24 L924.00,1908.92 L924.30,1902.10 L924.60,1897.60 L925.00,1893.89 L925.50,1891.39 L926.10,1889.99 L926.80,1889.89 L927.70,1887.88 L928.15,1887.97 L928.60,1887.59 L929.05,1887.78 L929.50,1887.19 L929.95,1889.43 L930.40,1887.97 L930.85,1886.08 L931.30,1885.67 L931.75,1887.63 L932.20,1890.03 L932.65,1889.98 L933.10,1890.83 L933.55,1889.86 L934.00,1890.20 L934.45,1890.80 L934.75,1889.40 L935.05,1918.40 L935.30,1909.75 L935.55,1903.63 L935.85,1898.61 L936.15,1895.30 L936.55,1892.57 L937.05,1890.73 L937.65,1891.10 L938.35,1887.93 L939.25,1888.31 L939.70,1889.90 L940.15,1889.71 L940.60,1890.21 L941.05,1889.32 L941.50,1891.53 L941.95,1885.66 L942.40,1888.38 L942.85,1887.66 L943.30,1887.68 L943.75,1889.82 L944.20,1885.14 L944.65,1891.34 L945.10,1889.52 L945.55,1886.08 L946.00,1890.40 L946.30,1889.40 L946.60,1908.60 L946.85,1902.82 L947.10,1898.74 L947.40,1895.39 L947.70,1893.18 L948.10,1891.35 L948.60,1890.12 L949.20,1890.39 L949.90,1890.41 L950.80,1889.17 L951.25,1889.17 L951.70,1891.97 L952.15,1890.40 L952.60,1891.37 L953.05,1890.33 L953.50,1887.64 L953.95,1889.28 L954.40,1888.81 L954.85,1889.66 L955.30,1889.56 L955.75,1889.45 L956.20,1888.43 L956.65,1890.04 L957.10,1887.99 L957.55,1888.90 L957.85,1889.40 L958.15,1903.50 L958.40,1899.22 L958.65,1896.19 L958.95,1893.71 L959.25,1892.07 L959.65,1890.72 L960.15,1889.81 L960.75,1889.29 L961.45,1889.18 L962.35,1889.25 L962.80,1890.43 L963.25,1889.55 L963.70,1887.50 L964.15,1887.55 L964.60,1889.97 L965.05,1887.39 L965.50,1891.19 L965.95,1887.79 L966.40,1889.66 L966.85,1891.05 L967.30,1889.92 L967.75,1891.30 L968.20,1890.31 L968.65,1888.68 L969.10,1889.96 L969.40,1889.40 L969.70,1904.30 L969.95,1899.78 L970.20,1896.59 L970.50,1893.97 L970.80,1892.24 L971.20,1890.82 L971.70,1889.86 L972.30,1889.75 L973.00,1889.72 L973.90,1889.84 L974.35,1888.59 L974.80,1887.81 L975.25,1890.17 L975.70,1887.21 L976.15,1889.17 L976.60,1890.04 L977.05,1888.94 L977.50,1889.20 L977.95,1888.98 L978.40,1887.37 L978.85,1887.99 L979.30,1888.27 L979.75,1885.99 L980.20,1889.72 L980.65,1888.82 L980.95,1889.40 L981.25,1903.60 L981.50,1899.29 L981.75,1896.24 L982.05,1893.74 L982.35,1892.09 L982.75,1890.73 L983.25,1889.81 L983.85,1890.62 L984.55,1889.42 L985.45,1888.81 L985.90,1886.26 L986.35,1886.15 L986.80,1888.82 L987.25,1886.25 L987.70,1887.36 L988.15,1888.95 L988.60,1889.26 L989.05,1891.08 L989.50,1890.59 L989.95,1887.36 L990.40,1885.47 L990.85,1889.61 L991.30,1886.60 L991.75,1888.61 L992.20,1888.45 L992.50,1889.40 L992.80,1902.90 L993.05,1898.79 L993.30,1895.89 L993.60,1893.51 L993.90,1891.94 L994.30,1890.64 L994.80,1889.77 L995.40,1889.79 L996.10,1889.30 L997.00,1888.81 L997.45,1884.95 L997.90,1886.72 L998.35,1889.19 L998.80,1888.54 L999.25,1888.44 L999.70,1888.85 L1000.15,1886.18 L1000.60,1889.96 L1001.05,1889.33 L1001.50,1888.36 L1001.95,1887.83 L1002.40,1888.19 L1002.85,1889.05 L1003.30,1896.31 L1003.75,1888.43 L1004.05,1889.40 L1004.35,1902.90 L1004.60,1898.79 L1004.85,1895.89 L1005.15,1893.51 L1005.45,1891.94 L1005.85,1890.64 L1006.35,1889.77 L1006.95,1890.09 L1007.65,1887.32 L1008.55,1889.38 L1009.00,1892.29 L1009.45,1890.01 L1009.90,1890.27 L1010.35,1889.64 L1010.80,1887.34 L1011.25,1889.26 L1011.70,1895.67 L1012.15,1890.59 L1012.60,1888.94 L1013.05,1889.74 L1013.50,1889.93 L1013.95,1891.32 L1014.40,1888.93 L1014.85,1890.95 L1015.30,1887.88 L1015.60,1889.40 L1015.90,1902.90 L1016.15,1898.79 L1016.40,1895.89 L1016.70,1893.51 L1017.00,1891.94 L1017.40,1890.64 L1017.90,1889.77 L1018.50,1888.78 L1019.20,1889.56 L1020.10,1888.45 L1020.55,1890.08 L1021.00,1891.11 L1021.45,1890.54 L1021.90,1888.90 L1022.35,1890.04 L1022.80,1886.36 L1023.25,1891.49 L1023.70,1886.72 L1024.15,1886.55 L1024.60,1888.81 L1025.05,1888.45 L1025.50,1888.93 L1025.95,1886.81 L1026.40,1889.58 L1026.85,1888.56 L1026.95,1885.90 L1027.45,1901.90 L1027.70,1898.09 L1027.95,1895.39 L1028.25,1893.18 L1028.55,1891.72 L1028.95,1890.52 L1029.45,1889.71 L1030.05,1888.90 L1030.75,1890.17 L1031.65,1888.60 L1032.10,1887.88 L1032.55,1889.33 L1033.00,1889.65 L1033.45,1887.88 L1033.90,1888.92 L1034.35,1888.14 L1034.80,1889.15 L1035.25,1888.55 L1035.70,1889.43 L1036.15,1886.16 L1036.60,1887.62 L1037.05,1887.39 L1037.50,1889.81 L1037.95,1889.98 L1038.40,1889.34 L1038.70,1889.40 L1039.00,1902.90 L1039.25,1898.79 L1039.50,1895.89 L1039.80,1893.51 L1040.10,1891.94 L1040.50,1890.64 L1041.00,1889.77 L1041.60,1888.26 L1042.30,1889.02 L1043.20,1888.87 L1043.65,1889.99 L1044.10,1891.60 L1044.55,1887.13 L1045.00,1891.13 L1045.45,1889.36 L1045.90,1888.88 L1046.35,1888.89 L1046.80,1890.20 L1047.25,1886.36 L1047.70,1889.55 L1048.15,1889.43 L1048.60,1891.06 L1049.05,1888.07 L1049.50,1885.00 L1049.95,1889.39 L1050.05,1885.90 L1050.55,1901.20 L1050.80,1897.59 L1051.05,1895.04 L1051.35,1892.95 L1051.65,1891.57 L1052.05,1890.43 L1052.55,1889.66 L1053.15,1889.41 L1053.85,1890.65 L1054.75,1889.32 L1055.20,1889.70 L1055.65,1889.32 L1056.10,1889.26 L1056.55,1888.11 L1057.00,1890.37 L1057.45,1888.39 L1057.90,1890.43 L1058.35,1890.13 L1058.80,1887.80 L1059.25,1891.10 L1059.70,1887.68 L1060.15,1886.73 L1060.60,1888.92 L1061.05,1887.26 L1061.50,1882.59" fill="none" stroke="#141414" stroke-width="1.7" stroke-linejoin="round"/>
<path d="M855.00,2208.40 C856.93,2208.25 862.75,2208.07 866.60,2207.50 C870.45,2206.93 874.18,2206.17 878.10,2205.00 C882.02,2203.83 886.17,2202.33 890.10,2200.50 C894.03,2198.67 897.78,2197.80 901.70,2194.00 C905.62,2190.20 910.55,2183.37 913.60,2177.70 C916.65,2172.03 917.95,2165.97 920.00,2160.00 C922.05,2154.03 923.90,2148.57 925.90,2141.90 C927.90,2135.23 930.02,2126.42 932.00,2120.00 C933.98,2113.58 935.80,2108.40 937.80,2103.40 C939.80,2098.40 941.95,2093.53 944.00,2090.00 C946.05,2086.47 946.98,2085.20 950.10,2082.20 C953.22,2079.20 958.50,2074.45 962.70,2072.00 C966.90,2069.55 970.75,2068.42 975.30,2067.50 C979.85,2066.58 974.95,2066.75 990.00,2066.50 C1005.05,2066.25 1053.00,2066.08 1065.60,2066.00" fill="none" stroke="#141414" stroke-width="1.3" stroke-linecap="butt" stroke-linejoin="round"/>
<rect x="850.40" y="2203.90" width="9.2" height="9.0" fill="#141414"/>
<rect x="862.00" y="2209.30" width="9.2" height="9.0" fill="#141414"/>
<rect x="873.50" y="2199.40" width="9.2" height="9.0" fill="#141414"/>
<rect x="885.50" y="2194.70" width="9.2" height="9.0" fill="#141414"/>
<rect x="897.10" y="2191.60" width="9.2" height="9.0" fill="#141414"/>
<rect x="909.00" y="2173.20" width="9.2" height="9.0" fill="#141414"/>
<rect x="921.30" y="2137.40" width="9.2" height="9.0" fill="#141414"/>
<rect x="933.20" y="2098.90" width="9.2" height="9.0" fill="#141414"/>
<rect x="945.50" y="2077.70" width="9.2" height="9.0" fill="#141414"/>
<rect x="958.10" y="2069.20" width="9.2" height="9.0" fill="#141414"/>
<rect x="970.70" y="2059.00" width="9.2" height="9.0" fill="#141414"/>
<rect x="983.30" y="2061.40" width="9.2" height="9.0" fill="#141414"/>
<rect x="996.20" y="2064.80" width="9.2" height="9.0" fill="#141414"/>
<rect x="1008.90" y="2065.50" width="9.2" height="9.0" fill="#141414"/>
<rect x="1021.80" y="2062.40" width="9.2" height="9.0" fill="#141414"/>
<rect x="1034.80" y="2063.40" width="9.2" height="9.0" fill="#141414"/>
<rect x="1048.10" y="2058.30" width="9.2" height="9.0" fill="#141414"/>
<rect x="1061.00" y="2060.70" width="9.2" height="9.0" fill="#141414"/>
</svg></body></html>
